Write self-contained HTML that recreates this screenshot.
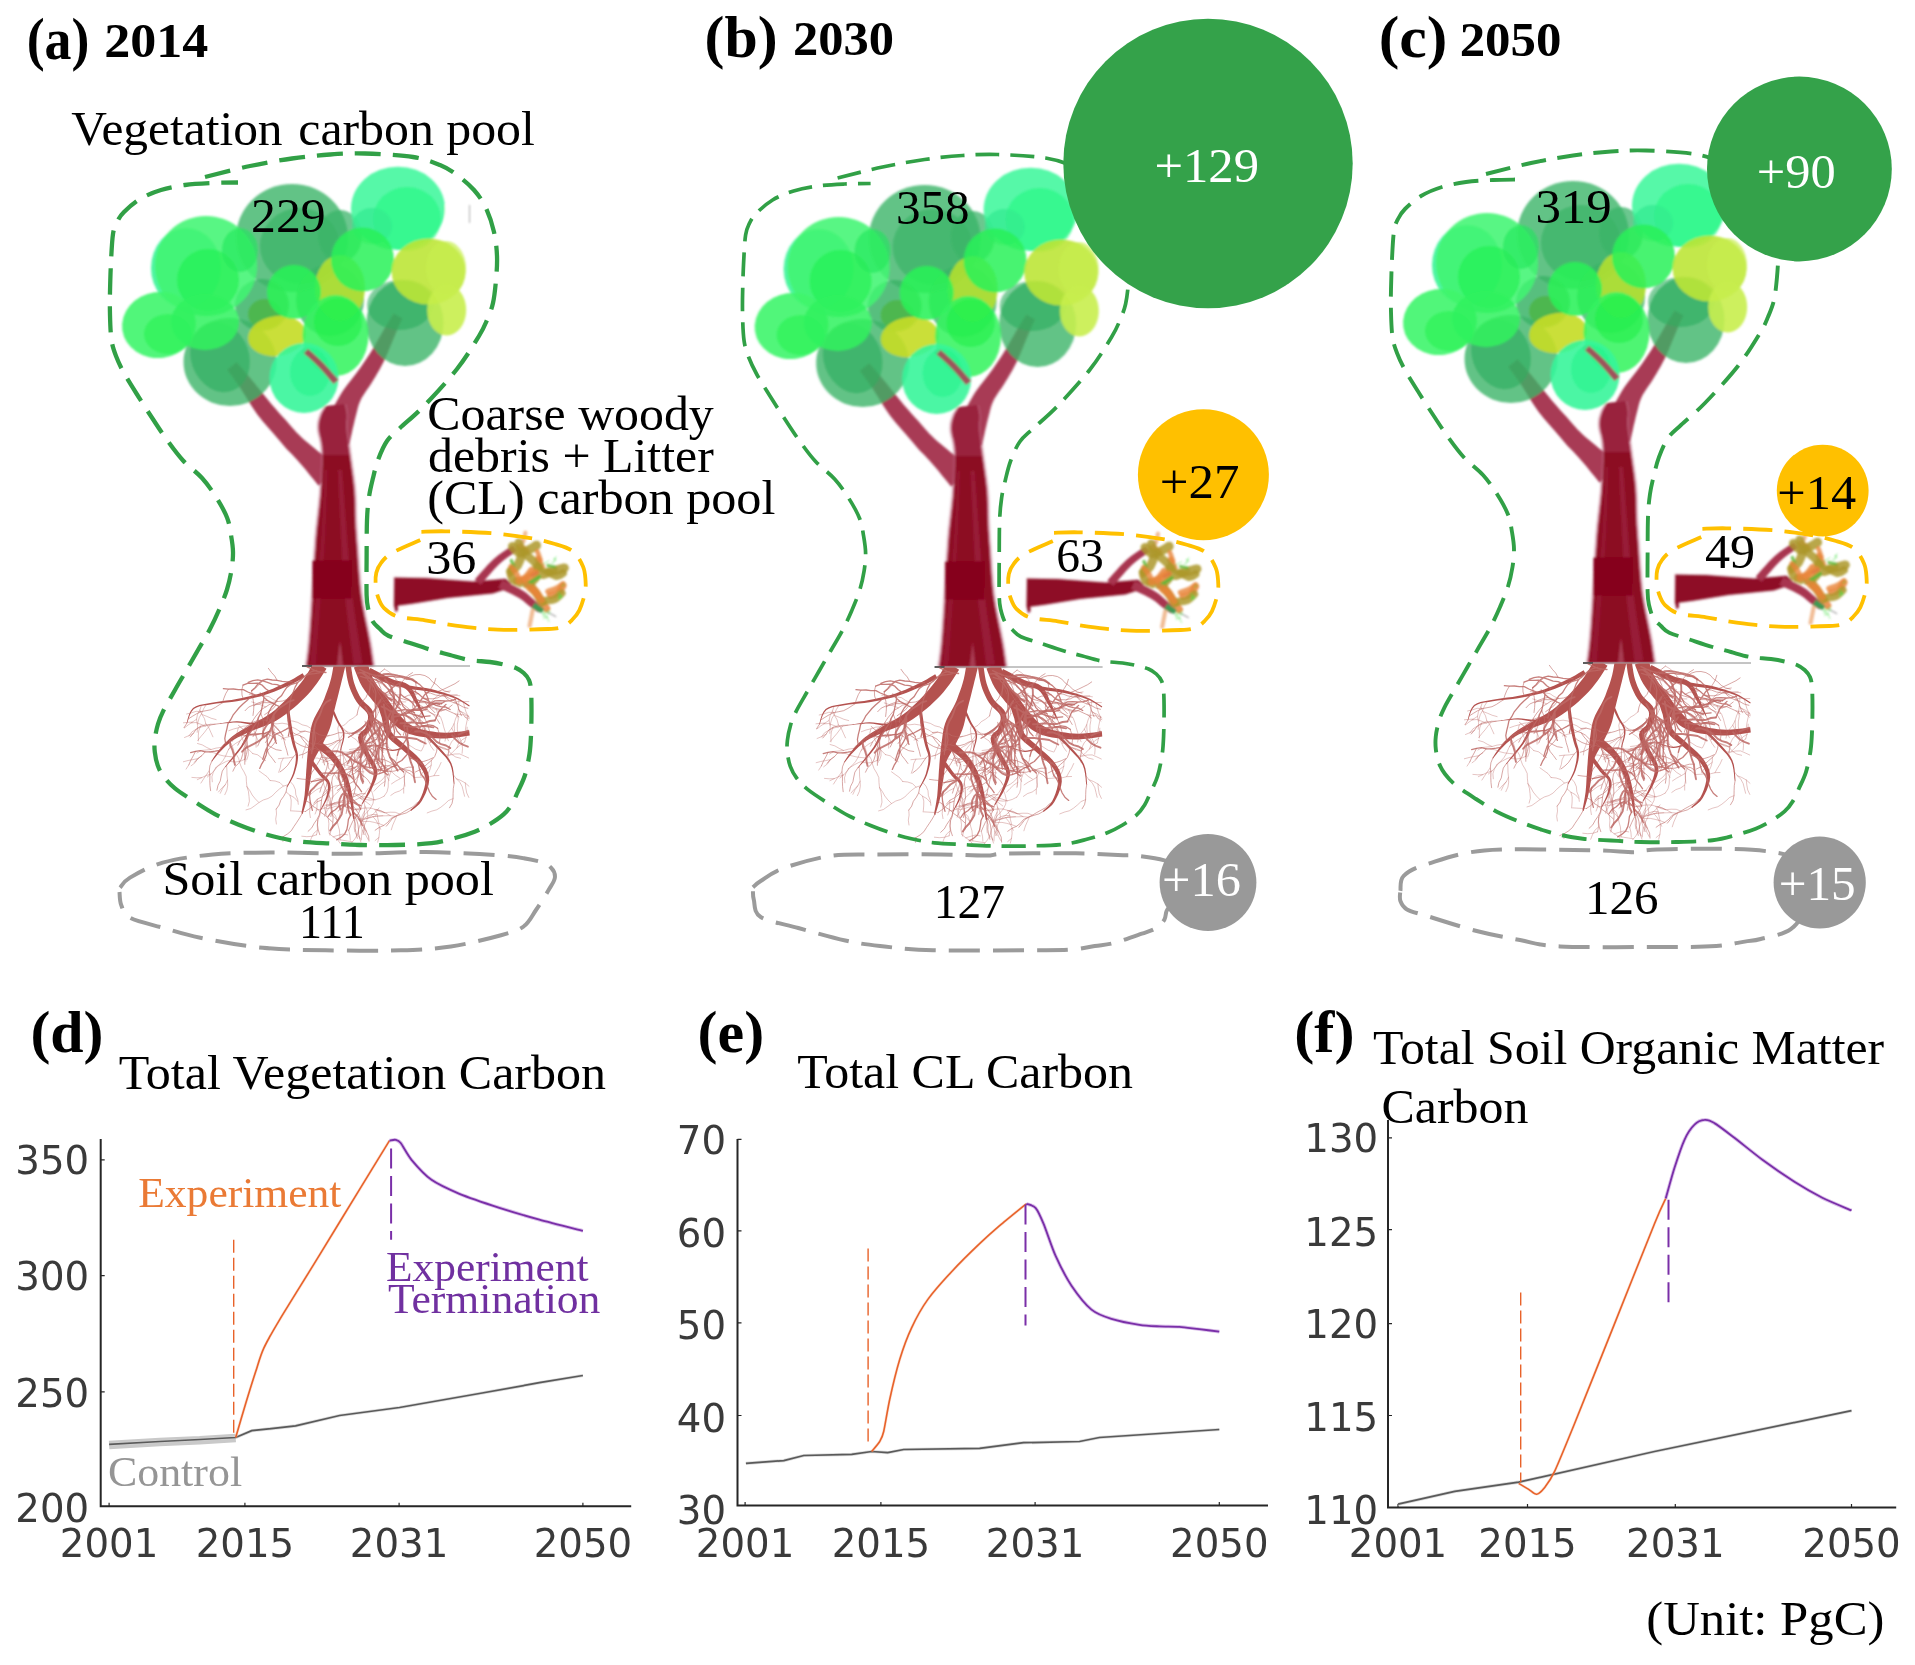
<!DOCTYPE html>
<html lang="en"><head><meta charset="utf-8"><title>Carbon pools</title>
<style>
html,body{margin:0;padding:0;background:#fff}
svg{display:block}
.s{font-family:"Liberation Serif","Times New Roman",serif}
.b{font-family:"Liberation Serif","Times New Roman",serif;font-weight:bold}
.t{font-family:"DejaVu Sans","Liberation Sans",sans-serif;fill:#3a3a3a}
</style></head><body>
<svg width="1915" height="1665" viewBox="0 0 1915 1665">
<rect width="1915" height="1665" fill="#fff"/>
<defs><clipPath id="tk"><rect x="290" y="455" width="100" height="215"/></clipPath><filter id="sf" x="-5%" y="-5%" width="110%" height="110%"><feGaussianBlur stdDeviation="0.8"/></filter><g id="tree" filter="url(#sf)"><path d="M337.4 466.3L334.8 464.3L331 461.3L326.5 457.8L321.8 454.2L317.4 450.7L313.6 447.6L310.5 445.1L307.8 442.8L305.3 440.7L303 438.7L300.9 436.7L298.7 434.6L296.5 432.4L294.4 430.1L292.3 427.8L290.2 425.3L288 422.7L285.7 420.1L283.3 417.4L281 414.9L278.7 412.4L276.4 409.8L274 407L271.3 403.9L268.3 400.3L264.8 396L261.2 391.5L257.5 386.9L254 382.6L250.8 378.7L247.9 375.2L245.1 371.9L242.4 368.8L240.1 366.2L238.1 363.9L236.7 362.3L227.3 369.7L228.6 371.5L230.3 373.9L232.4 376.8L234.7 380L237.1 383.5L239.6 387.1L242.2 391.1L245.2 395.8L248.3 400.7L251.4 405.7L254.6 410.4L257.5 414.7L260.3 418.3L262.9 421.5L265.3 424.3L267.7 426.9L269.9 429.4L272.1 431.9L274.3 434.5L276.4 437L278.6 439.6L280.7 442.1L283 444.7L285.3 447.4L287.6 449.9L289.9 452.3L292.2 454.6L294.4 456.9L296.8 459.5L299.4 462.4L302.5 466L306.1 470.3L309.8 474.9L313.4 479.3L316.4 483L318.6 485.7Z" fill="#a83a55"/><path d="M349.3 444.6L349.9 441.9L350.7 438L351.7 433.6L352.7 428.8L353.8 424.3L354.7 420.3L355.6 416.7L356.5 413.2L357.3 409.9L358.1 406.7L359.1 403.7L360.2 400.9L361.6 398.1L363.2 395.4L365.1 392.6L367.1 389.6L369.3 386.4L371.5 383L373.5 379.7L375.5 376.4L377.5 373L379.6 369.4L381.7 365.6L383.8 361.5L386 356.8L388.2 351.7L390.3 346.5L392.4 341.4L394.3 336.7L396 332.7L397.4 329.4L398.7 326.4L399.9 323.8L400.9 321.6L401.8 319.8L402.4 318.4L393.6 313.6L392.8 315L391.7 316.6L390.4 318.7L388.9 321.2L387.2 324.1L385.2 327.3L383 331.1L380.5 335.6L377.7 340.3L375 345.1L372.3 349.7L369.8 353.7L367.5 357.3L365.3 360.6L363.1 363.8L360.9 366.9L358.7 369.9L356.5 373L354.4 375.8L352.2 378.6L349.9 381.4L347.5 384.5L345.1 387.7L342.8 391.1L340.6 394.6L338.6 398L336.6 401.4L334.8 404.8L333 408.2L331.3 411.7L329.3 415.8L327.3 420.3L325.2 424.9L323.4 429.2L321.8 432.8L320.7 435.4Z" fill="#a83a55"/><path d="M337.6 377.6L335.9 375.9L333.7 373.5L331 370.7L328.1 367.6L325.1 364.5L322.3 361.7L319.3 358.9L315.9 356L312.6 353.1L309.5 350.5L306.9 348.3L305 346.7L301 351.3L302.9 352.9L305.5 355.2L308.5 357.9L311.8 360.7L314.9 363.6L317.7 366.3L320.4 369.1L323.3 372.1L326.1 375.2L328.7 378.1L330.8 380.6L332.4 382.4Z" fill="#b23852"/><path d="M304.9 666L305.3 662.8L305.9 658.4L306.6 653L307.3 646.8L307.9 640L308.5 632.4L309.1 623.9L309.7 614.8L310.3 605.1L310.9 595L311.6 584.1L312.2 572.2L312.9 560L313.7 548.4L314.4 538L315.2 529.1L316.1 521L316.9 513.7L317.7 506.8L318.4 500L319 493.4L319.4 487.1L319.8 481.1L320.2 475.4L320.4 470L320.6 464.9L320.7 460.1L320.7 455.6L320.7 451.2L320.4 447L319.8 442.8L319 438.8L318 435L317.3 431.4L316.9 428L317 425L317.3 422.2L317.9 419.6L318.6 417.2L319.4 415L320.3 412.8L321.5 410.7L322.6 408.8L323.7 407.2L324.4 406L346.6 404L346.9 405.5L347.4 407.5L347.9 409.9L348.3 412.5L348.6 415L348.6 417.2L348.4 419.4L348.1 421.7L348 424.5L348.1 428L348.5 432.4L349.2 437.4L349.9 443L350.8 448.9L351.6 455L352.5 461.6L353.5 468.7L354.5 476L355.4 483.2L356.1 490L356.5 496.4L356.7 502.6L356.8 508.6L356.9 514.4L357.1 520L357.3 524.9L357.5 529.2L357.8 533.4L358.1 538.5L358.6 545L359.2 553.5L359.8 563.4L360.6 574.2L361.5 584.9L362.6 595L364.1 604.6L365.9 614.3L367.8 623.6L369.6 632.3L371.1 640L372.3 646.8L373.2 653L374 658.4L374.6 662.8L375.1 666Z" fill="#b9607a" opacity=".55"/><path d="M307 666L307.4 662.8L308 658.4L308.7 653L309.4 646.8L310 640L310.6 632.4L311.2 623.9L311.8 614.8L312.4 605.1L313 595L313.7 584.1L314.3 572.2L315 560L315.8 548.4L316.5 538L317.3 529.1L318.2 521L319 513.7L319.8 506.8L320.5 500L321.1 493.4L321.5 487.1L321.9 481.1L322.3 475.4L322.5 470L322.7 464.9L322.8 460.1L322.8 455.6L322.8 451.2L322.5 447L321.9 442.8L321.1 438.8L320.1 435L319.4 431.4L319 428L319.1 425L319.4 422.2L320 419.6L320.7 417.2L321.5 415L322.4 412.8L323.6 410.7L324.7 408.8L325.8 407.2L326.5 406L344.5 404L344.8 405.5L345.3 407.5L345.8 409.9L346.2 412.5L346.5 415L346.5 417.2L346.3 419.4L346 421.7L345.9 424.5L346 428L346.4 432.4L347.1 437.4L347.8 443L348.7 448.9L349.5 455L350.4 461.6L351.4 468.7L352.4 476L353.3 483.2L354 490L354.4 496.4L354.6 502.6L354.7 508.6L354.8 514.4L355 520L355.2 524.9L355.4 529.2L355.7 533.4L356 538.5L356.5 545L357.1 553.5L357.7 563.4L358.5 574.2L359.4 584.9L360.5 595L362 604.6L363.8 614.3L365.7 623.6L367.5 632.3L369 640L370.2 646.8L371.1 653L371.9 658.4L372.5 662.8L373 666Z" fill="#99203c"/><path d="M307.3 666L307.7 662.8L308.3 658.4L309 653L309.7 646.8L310.3 640L310.9 632.4L311.5 623.9L312.1 614.8L312.7 605.1L313.3 595L314 584.1L314.6 572.2L315.3 560L316.1 548.4L316.8 538L317.6 529.1L318.5 521L319.3 513.7L320.1 506.8L320.8 500L321.4 493.4L321.8 487.1L322.2 481.1L322.6 475.4L322.8 470L323 464.9L323.1 460.1L323.1 455.6L323.1 451.2L322.8 447L322.2 442.8L321.4 438.8L320.4 435L319.7 431.4L319.3 428L319.4 425L319.7 422.2L320.3 419.6L321 417.2L321.8 415L322.7 412.8L323.9 410.7L325 408.8L326.1 407.2L326.8 406L344.2 404L344.5 405.5L345 407.5L345.5 409.9L345.9 412.5L346.2 415L346.2 417.2L346 419.4L345.7 421.7L345.6 424.5L345.7 428L346.1 432.4L346.8 437.4L347.5 443L348.4 448.9L349.2 455L350.1 461.6L351.1 468.7L352.1 476L353 483.2L353.7 490L354.1 496.4L354.3 502.6L354.4 508.6L354.5 514.4L354.7 520L354.9 524.9L355.1 529.2L355.4 533.4L355.7 538.5L356.2 545L356.8 553.5L357.4 563.4L358.2 574.2L359.1 584.9L360.2 595L361.7 604.6L363.5 614.3L365.4 623.6L367.2 632.3L368.7 640L369.9 646.8L370.8 653L371.6 658.4L372.2 662.8L372.7 666Z" fill="#8c0822" clip-path="url(#tk)"/><path d="M338 470.1L338.2 475.3L338.4 482.4L338.8 490.8L339.2 500.2L339.7 510.1L340.2 520.2L340.7 530.6L341.2 541.9L341.8 553.7L342.5 565.9L343.3 578.2L344.4 590.4L345.7 603.4L347.4 617.6L349.3 631.9L351 645.3L352.5 656.5L353.5 664.6L362.5 663.4L361.2 655.3L359.4 644.1L357.4 630.8L355.2 616.6L353.3 602.5L351.6 589.6L350.4 577.6L349.3 565.4L348.3 553.3L347.4 541.5L346.6 530.3L345.8 519.8L345 509.8L344.3 499.8L343.6 490.5L343 482.1L342.4 475.1L342 469.9Z" fill="#a3304c" opacity=".5"/><path d="M324.5 469.9L324.1 477.7L323.6 488.5L323.1 501.2L322.4 514.7L321.7 528L321 539.9L320.2 550.4L319.3 560.4L318.4 570.2L317.4 579.9L316.4 589.7L315.5 599.8L314.5 611L313.5 623.2L312.4 635.5L311.5 647L310.6 656.8L310 663.8L316 664.2L316.5 657.2L317.1 647.5L317.9 636L318.8 623.6L319.7 611.4L320.5 600.2L321.3 590.1L322.1 580.3L322.9 570.6L323.6 560.8L324.4 550.7L325 540.1L325.6 528.2L326.1 514.9L326.6 501.3L327 488.6L327.3 477.8L327.5 470.1Z" fill="#a3304c" opacity=".35"/><rect x="312.5" y="560.5" width="39" height="38" fill="#86001b"/><path d="M337 665L340 640L343 665Z" fill="#b55268" opacity=".7"/><ellipse cx="292" cy="238" rx="56" ry="54" fill="#3bb468" opacity="0.8"/><ellipse cx="300" cy="246" rx="40" ry="38" fill="#2fae5e" opacity="0.55"/><ellipse cx="340" cy="236" rx="22" ry="26" fill="#3bb468" opacity="0.75"/><ellipse cx="230" cy="362" rx="46.5" ry="44" fill="#3bb468" opacity="0.8"/><ellipse cx="220" cy="357" rx="29" ry="36" fill="#2fae5e" opacity="0.6" transform="rotate(-20 220 357)"/><ellipse cx="405" cy="323" rx="38.5" ry="43" fill="#3bb468" opacity="0.8"/><ellipse cx="400" cy="305" rx="33" ry="25" fill="#2fae5e" opacity="0.6"/><ellipse cx="262" cy="305" rx="27" ry="26" fill="#3bb468" opacity="0.85"/><ellipse cx="330" cy="300" rx="34" ry="36" fill="#3bb468" opacity="0.8"/><ellipse cx="398" cy="208.4" rx="47" ry="41.7" fill="#3df79c" opacity="0.88"/><ellipse cx="407" cy="219" rx="34" ry="32" fill="#1ff87c" opacity="0.55"/><ellipse cx="372" cy="226" rx="20" ry="18" fill="#2fe88c" opacity="0.6"/><ellipse cx="186" cy="268" rx="35" ry="40" fill="#2ff391" opacity="0.85"/><ellipse cx="206" cy="266" rx="51" ry="50" fill="#42f572" opacity="0.88"/><ellipse cx="208" cy="280" rx="31" ry="31" fill="#1ef04c" opacity="0.6"/><ellipse cx="240" cy="250" rx="18" ry="22" fill="#22e85a" opacity="0.6"/><ellipse cx="159" cy="325" rx="37" ry="33" fill="#3ff56c" opacity="0.9" transform="rotate(-8 159 325)"/><ellipse cx="168" cy="334" rx="24" ry="20" fill="#22f050" opacity="0.55"/><ellipse cx="205" cy="322" rx="34" ry="28" fill="#30f25e" opacity="0.85"/><ellipse cx="265" cy="314" rx="17" ry="15" fill="#4cb648" opacity="0.85"/><ellipse cx="277" cy="336" rx="29" ry="20" fill="#c6dc28" opacity="0.92" transform="rotate(-8 277 336)"/><ellipse cx="340" cy="288" rx="25" ry="33" fill="#b4e030" opacity="0.9"/><ellipse cx="294" cy="292" rx="27" ry="27" fill="#2bf158" opacity="0.88"/><ellipse cx="362.5" cy="259.5" rx="31.5" ry="32" fill="#2bf158" opacity="0.86"/><ellipse cx="428.6" cy="271.5" rx="37" ry="33" fill="#bde636" opacity="0.9"/><ellipse cx="446.7" cy="310" rx="19.5" ry="25.5" fill="#c8ee4e" opacity="0.9"/><ellipse cx="446" cy="268" rx="20" ry="27" fill="#c8ee4e" opacity="0.7"/><ellipse cx="335.5" cy="335.6" rx="33" ry="40.5" fill="#34f460" opacity="0.88"/><ellipse cx="338" cy="322" rx="24" ry="24" fill="#1eef44" opacity="0.55"/><ellipse cx="304" cy="378" rx="34.5" ry="35" fill="#36f59a" opacity="0.9"/><ellipse cx="310" cy="372" rx="20" ry="24" fill="#22f388" opacity="0.5"/><path d="M338.5 379.9L337 378.2L334.9 375.7L332.4 372.9L329.7 369.8L326.9 366.7L324.2 363.8L321.4 361L318.3 358.1L315.2 355.2L312.3 352.6L309.8 350.4L308 348.8L304 353.2L305.7 354.9L308.2 357.1L311.1 359.8L314.1 362.6L317.1 365.5L319.8 368.2L322.3 370.9L325 373.9L327.6 377L330 379.9L332 382.3L333.5 384.1Z" fill="#b23852" opacity=".85"/><rect x="445.2" y="205" width="25" height="34" fill="#fff"/><path d="M469.5 205V223" stroke="#555" stroke-width=".6"/></g><clipPath id="rc"><rect x="183" y="666.5" width="287" height="180"/></clipPath><g id="roots"><path d="M302 666H470" stroke="#8a8a8a" stroke-width="1" fill="none"/><path d="M302 666H312" stroke="#444" stroke-width="1.6" fill="none"/><g clip-path="url(#rc)" fill="#b4524f"><path d="M314.3 661.3L312.8 663.9L310.8 667.6L308.4 671.7L305.9 675.8L303.5 679.5L301 682.8L298.4 686.1L295.7 689.3L292.8 692.6L289.6 695.9L286.2 699.4L282.6 703L278.8 706.5L275 709.9L271.1 713L267 715.8L262.5 718.5L257.8 721.1L253.2 723.6L248.9 726L245.2 728.2L241.8 730.1L238.6 732L235.5 734L232.4 736.2L229.5 738.8L226.7 741.5L224 744.3L221.6 747L219.4 749.6L217.3 752.2L215.5 754.8L213.8 757.3L212.4 759.4L211.4 760.9L212.1 761.4L213.2 760L214.8 758L216.6 755.7L218.7 753.3L220.9 750.9L223.3 748.6L225.9 746.1L228.7 743.7L231.6 741.3L234.6 739.2L237.6 737.4L240.7 735.9L244 734.4L247.6 732.8L251.5 731.1L255.9 729.3L260.7 727.5L265.9 725.5L271.1 723.3L276.1 720.7L280.8 717.7L285.4 714.5L289.7 711.1L293.9 707.7L297.7 704.4L301.3 701.1L304.7 697.7L307.9 694.4L311 690.9L313.9 687.3L317 683.3L319.9 678.9L322.6 674.7L324.9 671.2L326.5 668.7Z"/><path d="M302.6 673.2L300.5 674.5L297.5 676.3L294 678.4L290.1 680.6L286.2 682.6L282.1 684.6L277.6 686.6L272.9 688.7L268 690.6L263.1 692.4L258 693.9L252.7 695.4L247.3 696.7L241.9 697.9L236.6 699L231.5 699.9L226.3 700.6L221.1 701.2L216.2 701.9L211.6 702.7L207.4 703.4L203.2 704.2L199.4 705L196 706.2L193 708L190.8 710.8L189.1 714.3L187.9 718L187.1 721.2L186.4 723.4L187 723.6L187.8 721.4L188.7 718.2L190 714.7L191.7 711.4L193.8 708.9L196.5 707.4L199.8 706.3L203.5 705.6L207.6 705L211.9 704.3L216.5 703.6L221.4 703.1L226.5 702.6L231.8 702.1L237 701.3L242.4 700.3L247.9 699.2L253.4 698L258.8 696.7L264 695.2L269.1 693.6L274.1 691.7L278.9 689.8L283.5 687.8L287.8 685.9L291.9 683.9L295.9 681.9L299.6 679.9L302.6 678.2L304.8 677Z"/><path d="M333.9 663.8L333.4 666.3L332.8 669.7L332.1 673.7L331.2 677.9L330.1 682L328.9 686L327.4 690.3L325.8 694.6L324.2 698.9L322.4 703L320.5 706.8L318.4 710.6L316.3 714.3L314.2 718.2L312.6 722.2L311.4 726.2L310.6 730.2L310 734.1L309.5 737.9L309 741.6L308.5 745.2L308.1 748.8L307.8 752.4L307.4 756L307.1 759.6L306.8 763.2L306.6 766.6L306.3 769.9L306.1 773.3L305.9 776.7L305.6 780.3L305.4 784L305.2 787.7L304.9 791.4L304.6 795.1L304 799.1L303.3 803.3L302.5 807.5L301.8 811.1L301.4 813.6L302.7 813.9L303.4 811.5L304.5 808L305.7 803.9L306.9 799.7L307.8 795.7L308.6 791.9L309.2 788.2L309.8 784.5L310.3 780.8L310.9 777.3L311.4 773.8L311.7 770.5L312.2 767.2L312.8 764.1L313.6 761L314.9 758L316.5 755L318.2 752L320 748.9L321.8 745.6L323.5 742.2L325.2 738.8L326.9 735.4L328.5 731.8L329.9 728.2L331.1 724.5L332.1 720.4L333 716.2L334 711.8L335.1 707.3L336.2 702.8L337.4 698.2L338.6 693.6L339.7 689.1L340.8 684.8L341.8 680.5L342.9 676.2L343.9 672.1L344.7 668.7L345.3 666.3Z"/><path d="M314.5 746.9L316.5 748.3L319.2 750.1L322.4 752.3L325.4 754.6L328.1 756.8L330.3 759L332.4 761.4L334.4 763.9L336.2 766.5L338 769.2L339.6 772L341.1 775L342.4 778.1L343.7 781.2L344.9 784.4L346.1 787.6L347.1 790.7L348.1 794L349 797.3L349.8 800.7L350.7 804.5L351.4 808.7L352.1 812.8L352.7 816.4L353.2 818.9L354.5 818.7L354.3 816.2L354 812.6L353.7 808.4L353.3 804.1L352.8 800.1L352.3 796.6L351.7 793.1L351 789.7L350.3 786.3L349.4 783L348.3 779.6L347.2 776.2L345.9 772.9L344.5 769.6L342.9 766.4L341.2 763.4L339.3 760.4L337.3 757.6L335.1 754.8L332.8 752.1L330.1 749.3L327 746.5L324 743.9L321.4 741.8L319.6 740.3Z"/><path d="M345.2 665.5L345.6 668L346.1 671.6L346.7 675.8L347.6 680.2L348.6 684.2L349.8 687.9L351.2 691.5L352.8 695L354.5 698.4L356.5 701.8L359 704.9L361.9 707.8L364.6 710.3L366.6 712.5L367.7 714.5L368.1 716.6L367.9 719.3L367.4 722.1L366.5 725L365.7 727.3L364.7 728.9L363.1 730.3L361 731.9L359 734.3L358 737.6L358.5 741.2L359.8 744.8L361.5 748.5L363.4 752L365.1 755.5L367 758.9L369.2 762.2L371.3 765.4L372.9 768.4L373.7 771.4L373.8 774.4L373.1 777.8L372.1 781.3L370.8 784.8L369.5 788.2L368 791.6L366.3 795.2L364.5 798.6L362.9 801.4L361.7 803.5L362.6 804L363.9 802L365.7 799.3L367.8 796.1L369.9 792.6L371.6 789.2L373.2 785.8L374.8 782.3L376.2 778.7L377.2 774.9L377.4 771L376.5 767.1L374.9 763.4L372.9 759.9L370.9 756.6L369.3 753.4L367.7 749.9L365.9 746.3L364.3 742.9L363.3 740L363 737.9L363.4 736.8L364.5 735.7L366.3 734.3L368.6 732.4L370.4 729.8L371.7 726.8L372.8 723.6L373.7 720.1L374 716.4L373.4 712.5L371.5 709L368.8 706.1L365.9 703.5L363.3 701.1L361.2 698.5L359.5 695.7L357.9 692.6L356.4 689.3L355.2 686L354 682.6L353.1 678.9L352.3 674.8L351.7 670.7L351.2 667.2L350.8 664.6Z"/><path d="M353.9 667.5L354.8 670L356.2 673.6L357.9 677.8L359.9 682.4L362.2 686.7L364.7 690.6L367.4 694.2L370.2 697.6L372.9 700.9L375.6 704L378.2 707.3L381 710.8L383.9 714.2L386.9 717.6L389.9 720.6L392.8 723.3L395.6 725.8L398.6 728.2L401.7 730.3L405.1 732.1L408.6 733.7L412.2 734.8L415.8 735.7L419.5 736.4L423.4 737L427.5 737.6L431.9 738L436.4 738.3L441.1 738.4L445.8 738.4L450.9 738L456.5 737.4L461.9 736.7L466.5 736L469.8 735.5L469.2 730.6L465.9 730.9L461.3 731.5L455.9 732.1L450.5 732.6L445.7 732.7L441.3 732.6L436.9 732.2L432.6 731.6L428.5 730.9L424.7 730.1L421.1 729.2L417.8 728.2L414.8 727.1L412.1 725.8L409.5 724.3L407.1 722.5L404.8 720.5L402.6 718.3L400.3 715.8L398 713.1L395.6 710.1L393.1 706.9L390.7 703.4L388.1 699.8L385.6 696.2L382.9 692.8L380.3 689.5L377.9 686.3L375.7 683.2L373.9 680.1L372.2 676.7L370.7 672.8L369.3 668.7L368.1 665.2L367.2 662.6Z"/><path d="M375.7 699.5L376.6 702L377.8 705.6L379.1 709.7L380.5 713.9L381.7 717.6L382.4 720.9L382.9 724.2L383.5 727.8L384.6 731.5L386.4 735.1L389 738.5L392.1 741.5L395.5 744.2L398.9 746.9L402.2 749.8L405.6 752.8L409.3 755.9L412.9 759L416.2 762L418.8 765L421 768.1L422.8 771.1L424.2 774.1L425.1 777.1L425.5 780.3L425.2 784L424.3 788.1L422.9 792.4L421.3 796.4L419.7 799.8L417.9 802.6L415.8 805L413.6 807L411.6 808.7L410.3 810L411 810.9L412.5 809.7L414.6 808.2L417 806.3L419.5 803.9L421.7 801L423.6 797.5L425.6 793.5L427.3 789.1L428.6 784.6L429.2 780.4L429 776.4L428.1 772.7L426.6 769.1L424.8 765.7L422.5 762.2L419.7 758.7L416.3 755.3L412.7 752L409.1 748.9L405.7 745.8L402.4 742.8L399.1 739.9L396 737.2L393.4 734.6L391.5 732L390.3 729.3L389.6 726.5L389.1 723.3L388.6 719.8L387.8 716L386.7 712L385.3 707.7L384 703.6L382.9 700L382.1 697.4Z"/><path d="M367.3 673.9L370.4 675.4L374.7 677.6L379.8 680.1L384.9 682.5L389.5 684.5L393.6 685.8L397.4 686.5L400.7 687.1L403.4 687.8L405.7 689.1L407.9 691.1L410.1 694L412.1 697.4L414.1 700.9L416 704.2L418 707.4L419.9 710.8L421.8 714L423.3 716.8L424.4 718.7L425.3 718.3L424.4 716.2L423.2 713.3L421.8 709.8L420.3 706.2L418.7 702.8L417.1 699.3L415.5 695.6L413.8 691.8L411.6 688.2L408.9 685.1L405.5 683L402 681.8L398.5 681L395.1 680.2L391.7 679L387.5 677L382.6 674.5L377.7 671.8L373.4 669.5L370.4 667.9Z"/><path d="M407.1 688.9L410.3 689.3L414.8 689.7L420 690.3L425.4 690.9L430.4 691.8L435.2 692.7L440.1 693.9L445 695.1L449.6 696.5L453.8 697.9L457.6 699.6L461.2 701.5L464.5 703.5L467.2 705.2L469.2 706.4L469.7 705.6L467.8 704.3L465.1 702.5L461.9 700.4L458.3 698.2L454.4 696.4L450.2 694.7L445.6 693.2L440.7 691.7L435.8 690.3L431 689.1L425.9 688.1L420.4 687.2L415.2 686.4L410.7 685.7L407.5 685.3Z"/><path d="M285.3 705.4L285.8 708.4L286.5 712.8L287.3 717.7L288.1 722.7L288.8 727.1L289.5 730.9L290.2 734.4L290.9 737.7L291.6 740.8L292.4 743.9L293.2 746.8L294.1 749.4L295 751.8L295.6 754.3L295.9 757L295.8 760L295.4 763.4L294.7 766.9L293.9 770.3L293 773.4L291.8 776.5L290.4 779.6L288.9 782.6L287.5 785L286.6 786.8L287.3 787.2L288.3 785.5L289.8 783.1L291.4 780.2L293.1 777L294.4 773.9L295.4 770.7L296.4 767.3L297.3 763.7L297.8 760.2L298.1 756.9L297.9 753.9L297.3 751.2L296.5 748.6L295.7 746L295 743.3L294.3 740.2L293.7 737.1L293.1 733.8L292.4 730.3L291.8 726.6L291.1 722.3L290.4 717.3L289.7 712.3L289.1 707.9L288.6 704.9Z"/><path d="M308.8 761.5L310.2 763.3L312.2 766L314.6 769L317 772L319.1 774.7L321.2 776.9L323.3 778.9L325.1 780.6L326.6 782.3L327.5 784.1L327.9 786.2L327.9 788.7L327.6 791.3L327 794.1L326.3 796.8L325.3 799.6L323.9 802.8L322.4 805.8L321 808.4L320 810.2L320.8 810.6L321.8 808.8L323.3 806.3L325 803.3L326.6 800.2L327.9 797.3L328.8 794.6L329.6 791.8L330.2 788.9L330.4 786.1L330 783.3L329 780.8L327.3 778.6L325.4 776.6L323.5 774.7L321.7 772.6L319.7 769.9L317.5 766.8L315.3 763.7L313.3 761L312 759.1Z"/><path d="M403.7 747L402.2 747.4L400 748.1L397.5 748.9L394.8 749.5L392.3 749.7L389.6 749.4L386.5 748.7L383.5 747.9L380.8 747.1L379 746.6L378.8 747.2L380.6 747.8L383.2 748.7L386.3 749.6L389.4 750.4L392.2 750.9L395 750.7L397.8 750.2L400.4 749.6L402.6 749L404.2 748.6Z"/><path d="M273 715.6L270.8 716.7L267.8 718.3L264.2 720.1L260.4 721.6L256.8 722.5L253.1 722.7L249.1 722.4L244.9 721.9L240.8 721.4L236.9 721.2L233 721.4L229.1 721.9L225.4 722.4L222.3 722.9L220.1 723.2L220.2 723.9L222.4 723.6L225.5 723.3L229.2 722.9L233.1 722.6L236.8 722.5L240.6 722.8L244.7 723.5L248.9 724.2L253 724.6L257 724.5L261 723.6L265.1 722.2L268.8 720.5L272 719L274.2 718.1Z"/><path d="M329.4 705.6L330.3 707.7L331.6 710.6L333.1 714L334.7 717.5L336.2 720.6L337.8 723.4L339.5 726L341.1 728.5L342.3 731L343 733.6L343 736.9L342.4 740.7L341.5 744.5L340.6 747.8L340.1 750.2L340.9 750.4L341.5 748.1L342.5 744.8L343.6 740.9L344.4 737L344.5 733.5L343.9 730.4L342.6 727.6L341 725L339.4 722.4L338 719.7L336.6 716.6L335.1 713.1L333.6 709.7L332.4 706.8L331.5 704.7Z"/><path d="M423.1 734.5L424.9 736.3L427.5 738.7L430.5 741.6L433.7 744.6L436.6 747.7L439.5 750.7L442.5 753.9L445.4 757.1L448 760.5L450.1 763.9L451.5 767.9L452.4 772.5L453 777L453.3 781L453.7 783.7L454.5 783.6L454.3 780.9L454 776.9L453.6 772.3L452.8 767.6L451.4 763.3L449.4 759.6L446.8 756L443.9 752.6L441 749.3L438.2 746.2L435.3 743L432.2 739.8L429.3 736.9L426.7 734.4L424.9 732.6Z"/><path d="M249.1 728.1L248.3 730.2L247.2 733.1L245.8 736.6L244.3 740L242.7 743.1L241 745.9L239 748.7L236.9 751.4L234.9 754.1L233 756.5L231.1 759L229.2 761.3L227.5 763.6L226 765.4L224.9 766.8L225.4 767.2L226.5 765.9L228.1 764.1L230 762L232.1 759.7L234 757.4L236 755L238.2 752.4L240.3 749.7L242.4 746.9L244.3 744L246.1 740.9L247.7 737.4L249.2 734L250.4 731L251.3 729Z"/><path d="M201.9 755.6L197.8 758.5L195.1 762.7L191.1 765.8M197.9 758.6L193 759.6L188.1 760.5L183.2 761.8M188.8 764.9L186.1 769.1M209.3 770.7L206.4 774.8L203.6 778.9L200.9 783.1M255.5 732.3L256.3 737.2L256 742.2L256.1 747.2M240.1 740.8L235.8 743.3L231.8 746.3L228.3 749.8M247 745L248.4 749.8L248.4 754.8L246.9 759.5M244.8 759.3L240.2 761.3L235.3 762L230.3 761.5M201.2 711.6L196.2 711.3L191.4 712.8L186.6 714M206.4 704.4L203.7 708.6L201.8 713.2L199.3 717.5L197.9 722.3L197.5 727.3L197.2 732.3M202 714.5L206.7 716.3L211.3 718.3L216.1 719.6M205.8 723.7L208.8 727.7L210.8 732.2L212.9 736.8M199.9 710L202 714.5L204.5 718.8L205.8 723.7M192.4 722.1L187.4 722.4L182.4 722.9M196.5 719.3L192.4 722.1L188.2 724.9L184.3 728M201.4 705.3L199.9 710L197.5 714.4L196.5 719.3L197.3 724.3M309.6 802.7L310 807.7L309.6 812.7L310.4 817.6M283.3 836.6L282.9 841.6M370.4 808L375.2 809.4L380.1 810.4L384.5 812.8M355.5 809L360.4 808.5L365.4 808L370.4 808M363.2 819.2L367.3 816.2L371.9 814.5L376.9 814.5M368.1 818L372.1 815L375.8 811.7L379.1 807.9M372.9 816.6L376.1 820.4L378.5 824.8L380.7 829.3M358.2 819L363.2 819.2L368.1 818L372.9 816.6L377.8 816.2L382.8 815.7M356.1 833.5L359.3 837.4L360.9 842.1M369 738.6L369.4 743.6L370.1 748.5L371.1 753.4M359.1 749.4L358.2 754.4L357.5 759.3L358.5 764.2M361.9 763.3L360.9 768.2L358.9 772.8L358.2 777.7M372.5 772.1L377.1 770.2L382 768.9L387 769.1M341.3 787.4L338.5 791.5L334.7 794.8L331.3 798.4M364.1 744.6L363.8 749.6L362.1 754.3L360.6 759.1M368.5 753.6L366.9 758.3L363.7 762.2L360.9 766.3M368.6 746.5L370.8 751L374.1 754.7L377.7 758.2M384.1 766.4L384.8 771.3L386.6 776L388.9 780.4M387.2 770.3L391.9 772L395.6 775.4L399.8 778.1M385.1 776.3L381.9 780.1L377.9 783.1L373.4 785.4M385.1 781.3L381 784.1L377.4 787.5L374 791.2M403.7 788.1L399.6 791L394.9 792.6L390.8 795.4M402.2 768.5L404 773.2L404.4 778.2L404.6 783.2L403.7 788.1L403.7 793.1M404.4 776.2L400.1 778.8L395.7 781.1L391.5 783.9M406.2 771.5L404.4 776.2L404.3 781.2L404.9 786.2M434 775.7L436.4 771.3L439 767.1L441.1 762.5M414.2 777.5L419.2 777.3L424.2 776.7L429.1 776.9L434 775.7L439 775.5M339.7 802.3L334.9 803.7L329.9 804.1L325 805.3M334.7 802.9L330.6 805.8L327.7 809.8L325.3 814.2M349.6 803.3L344.6 802.9L339.7 802.3L334.7 802.9L329.9 804.4M372.3 784.5L368.7 787.9L365.8 792L362.6 795.8L358.4 798.5L353.9 800.7L349.6 803.3L345.2 805.6L340.3 806.8M370.5 788.7L372.4 793.3L373.6 798.2L373.1 803.2L370.9 807.6L367.7 811.6L364.2 815.1L362.1 819.6M364.9 806L367.1 810.4L367.8 815.4L366.8 820.3L364.6 824.8L363.6 829.7L363.1 834.6M362.2 830.1L361.6 835L361.4 840M364.6 811L362.4 815.4L361 820.2L360.9 825.2L362.2 830.1L364.4 834.6M362.5 820.6L364.3 825.3L364.4 830.3L365.8 835.1L368.1 839.5M363.8 801.1L364.9 806L364.6 811L364.1 815.9L362.5 820.6L360.1 825L358.5 829.8L357.3 834.6L354.8 839L351.6 842.8M355.6 817L354.5 821.9L354.2 826.9L354.7 831.9M348.7 830.3L349.9 835.2L350.3 840.2M399.9 814.1L395.3 812.3L390.3 812.2L385.3 812.6L380.4 811.7L375.9 809.6M390.4 815.6L386 813.2L381.5 811.1L376.6 809.8M375.4 816L370.7 817.6L365.8 818.7L361.3 820.9M395.4 816.2L390.4 815.6L385.4 815.8L380.4 815.9L375.4 816M379.1 823.7L377.9 818.8L377.1 813.9L374.8 809.4M383.8 825.4L379.1 823.7L374.3 822.4L369.4 821.4L364.4 821.5L359.5 820.4M378.9 837.4L375.1 840.6M379.2 827.4L379.5 832.4L378.9 837.4L377.7 842.2M396.8 815.9L394.8 820.5L392.8 825L391.3 829.8M442.2 695.5L447.2 695.8L452.2 695.3L457.2 694.7M427.5 705.9L431.9 708.1L436.7 709.7L441.5 710.9M421.9 725.8L418.6 729.6L414.4 732.3L409.7 734M419 716.2L420.6 721L421.9 725.8L422.8 730.7M404.8 730.1L405.8 735L407.2 739.8L407.8 744.7M407.2 744L411.5 746.6L415.7 749.3L420.5 750.8M403.4 734.8L405.7 739.3L407.2 744L408.8 748.8M454 702.8L458.8 701.2L463.8 701.5L468.8 701.6M468.2 715.9L467 720.8L466 725.7L465.3 730.6M459.5 711.1L464.1 713L468.2 715.9M464.8 716.8L469.4 718.7M458.3 709.4L462.1 712.5L464.8 716.8L468.4 720.2M454.1 723.7L454.4 728.7L454.8 733.6L453.7 738.5M451.8 728.1L453.9 732.6L456.6 736.8L459.3 741M446 736.3L441.1 736.9L436.1 736.5L431.2 735.5M457.6 714.3L455.5 718.9L454.1 723.7L451.8 728.1L448.7 732L446 736.3L445 741.1M449.4 746.3L448.6 751.2L447.9 756.2L448.3 761.2M458 734.2L455 738.2L451.6 741.8L449.4 746.3L448.8 751.3L447.8 756.2M458.9 699.4L458.7 704.4L458.3 709.4L457.6 714.3L458.3 719.3L457.4 724.2L457.3 729.2L458 734.2L460 738.7L461.9 743.4L462.5 748.3L462.1 753.3M463.2 702L464.5 706.8L465.9 711.6L468 716.2M306.2 743.6L304.8 748.4L303 753.1L302.4 758M317.4 743.7L320.8 740.1L325.2 737.7L329.5 735.2M339.9 759.8L339.8 764.8L338.4 769.6L335.6 773.7M324 777.9L327 781.8L329.7 786.1L331 790.9M323.4 782.8L324.8 787.6L327.1 792.1L328.3 796.9M321.3 787.4L316.8 789.5L312.8 792.4L309 795.7M328.6 768.1L332 771.7L335.3 775.5L337.7 779.9M320.2 750.5L323 754.6L326.3 758.4L328.1 763.1L328.6 768.1M283.3 758.2L281.1 762.7L280.3 767.6L278.7 772.3M293.2 757.1L288.3 757.9L283.3 758.2L278.3 758.7M290.1 781.4L293.4 785.1L295.4 789.7L295.8 794.7L297.7 799.4L298.3 804.3M270.1 780.5L267 776.6L262.9 773.7L258.9 770.8M283.4 786.1L279.9 782.6L275.1 781L270.1 780.5M288.3 784.7L283.4 786.1L279.4 789L275.7 792.3L272.2 796L268 798.5L263.2 800L258.9 802.6L254.9 805.6L250.8 808.5L246 809.9M289.9 795.2L291.2 800L291.1 805L290.7 810M286.1 791.9L289.9 795.2L294.3 797.6L297.6 801.3M276.2 809.1L276.5 814.1L275.7 819.1L276.4 824M349.3 769.1L354 771L358.9 771.5L363.9 771.9M305.4 811.5L300.4 811.4L295.4 811.1L290.4 810.8M317.2 799.3L317.1 804.3L316.9 809.3L315.1 814M327.1 797.1L329.1 801.6L330.3 806.5L331.4 811.4L333.3 816L336.6 819.7M333.2 836.8L337.9 835.4L342.8 834L347.7 834.9M337.4 839.5L342.3 840.2L347.3 841L352.2 841.7M329.3 833.7L333.2 836.8L337.4 839.5L340.3 843.5M323.6 804.6L324.8 809.4L326.2 814.2L328.3 818.8L328.9 823.8L328.5 828.7L329.3 833.7M317.6 829.9L313.9 833.2L311.5 837.6L309.7 842.3M316.5 834.8L311.8 836.3L306.8 836.7L301.8 836.2M317.8 820L317.2 825L317.6 829.9L316.5 834.8M386 767.4L382 764.4L377.7 761.8L373 760.2M395.2 763.7L390.3 764.9L386 767.4L381.2 768.9L377.4 772.1L373.8 775.6M375 799.8L370.2 798.3L365.4 796.8L360.4 797M365 799.5L361.2 796.3L356.8 794L351.8 793.8M384.2 796.1L379.8 798.4L375 799.8L370 800.1L365 799.5L360.2 798.3M398.9 749.2L397.4 754L396.8 758.9L395.2 763.7L392.1 767.6L390.6 772.4L389 777.1L388.3 782.1L388.2 787.1L387 791.9L384.2 796.1M374.9 721.5L371.7 717.6L368.9 713.4L365.8 709.5M388.2 747.4L387.3 742.5L386 737.7L384.2 733L381.3 728.9L378.7 724.6L374.9 721.5M377.7 737.5L372.7 738L368.1 740L364.1 743M383.6 745.3L381.5 740.8L377.7 737.5L374.4 733.8L371 730.1M373.6 744.8L369.1 747L364.3 748L359.8 750.3M368.7 745.8L365.1 749.3L361.3 752.5L358.1 756.3L355.4 760.5M364.3 748.2L359.3 747.8L354.5 748.9L349.5 749.5M359.6 749.8L354.7 751L349.8 751.5L345.4 754M378.6 745.3L373.6 744.8L368.7 745.8L364.3 748.2L359.6 749.8L354.7 750.8L349.8 752M376.5 761.8L380.8 764.4L385.1 766.9L389.2 769.7M374 747.2L373.9 752.2L375.6 756.9L376.5 761.8L378.2 766.5L378.5 771.5M355.2 750.6L352.5 754.8L351.2 759.6L348.5 763.8M370 750.2L365 750.3L360.1 749.4L355.2 750.6L351.2 753.6M336.2 756.9L331.2 756.3L326.4 757.5L321.4 757.5M327.3 761.4L322.5 759.9L317.8 758.1L312.8 757.9M350.4 752.3L345.8 754.2L340.9 755.3L336.2 756.9L331.9 759.5L327.3 761.4L322.3 762.1M392.3 750.3L388.2 747.4L383.6 745.3L378.6 745.3L374 747.2L370 750.2L365.3 752.1L360.4 752.6L355.4 752.8L350.4 752.3L345.4 752.1L340.4 752M379.3 703L383.9 701.1L388.6 699.4L393.6 698.7M381.5 698.5L386.5 697.7L391.5 697.6L396 699.7M385.2 695.1L390.2 695.2L395.2 694.8L400.2 695M389.9 693.4L391.9 688.8L393.6 684.1L395.7 679.6M378.3 712.6L377.5 707.7L379.3 703L381.5 698.5L385.2 695.1L389.9 693.4M388.7 749.8L383.7 749.9L379.1 748L375 745.1L372 741.1L371 736.2L372.2 731.4L372.4 726.4L374.2 721.7L376.3 717.2L378.3 712.6M238.3 727.8L237.1 732.6L234.4 736.8L232.4 741.4M248 725.7L243.1 726.2L238.3 727.8L233.5 729L228.8 730.7M245.9 746.4L244.9 751.3L245.6 756.2L245.8 761.2M252.8 753.6L257.6 754.8L261.6 757.9L265.7 760.7M240.7 732.4L241.6 737.3L243.8 741.8L245.9 746.4L249.3 750.1L252.8 753.6M230.3 742.3L232.6 746.8L234 751.6L235.4 756.4M215.8 767.6L213.4 772L211.9 776.8L212.3 781.8M232.2 737.7L230.3 742.3L229.7 747.3L227.4 751.8L225.5 756.3L222.9 760.7L219.6 764.4L215.8 767.6M211.1 749.5L206.6 747.4L202.3 744.9L197.5 743.5M220.9 747.5L216 748.1L211.1 749.5L206.2 750L201.2 750.5L196.9 753M205.5 726L200.8 724.3L196.1 722.5L191.1 722.9M200.6 727.1L196.1 729.3L191.9 731.9L188.9 735.9M215.2 724.2L210.2 724.2L205.5 726L200.6 727.1M210.2 725L207.1 728.8L204.1 732.8L200.8 736.6L197.7 740.5M200.4 726.3L198.7 731L198.3 735.9L198.4 740.9M193.5 733.2L189.1 735.6L184.5 737.5M342.1 752.9L343.5 757.7L343.7 762.7L345 767.5M339 723.6L337.8 728.4L338.5 733.4L339.1 738.3L341 743L341.2 748L342.1 752.9L344.4 757.3L346.6 761.8M361.3 748.2L358.2 752.1L356.1 756.6L353.7 761M341.1 726.8L345.1 729.8L348.6 733.4L351.9 737L356.2 739.7L359.2 743.7L361.3 748.2L363.2 752.8L365 757.5L367.3 761.9L370.5 765.8M364.1 744.9L361.2 749L359.3 753.6L358.6 758.5M365 740L364.1 744.9L362.7 749.7L360.4 754.1M372.7 754.7L369.3 758.4L365 761L360.9 763.8M371 759.4L372.4 764.2L374.7 768.7L376.5 773.4M373.8 744.8L373.4 749.8L372.7 754.7L371 759.4L369.7 764.2M342.8 730L347.4 732L352.3 733L357.3 733.8L361.5 736.5L365 740L369.2 742.7L373.8 744.8M339.7 741.1L338.8 746L337.2 750.7L335.2 755.3M343.6 737.9L339.7 741.1L336.3 744.8L333.3 748.7L330.8 753.1L327.6 756.9L324.1 760.5M349.1 775.7L348.7 780.7L347.9 785.7L347.3 790.6M340.9 770.2L344.7 773.4L349.1 775.7L353.9 777.2M431.2 765.3L427.2 768.3L423.4 771.6L420.5 775.6M431.5 760.3L431.2 765.3L429.8 770.1L427.6 774.6L424.1 778.2M456.8 748.1L458.6 743.4L462.1 739.8L466.4 737.2M464.7 741.9L466 737.1L466.8 732.2L467.2 727.2M449.7 755.1L453.2 751.5L456.8 748.1L460.6 744.8L464.7 741.9M444.7 754.9L449.7 755.1L454.6 754L459.6 753.9L464.2 755.9L468.7 758M465.3 783L465.8 788L466.7 792.9L468.8 797.4M456.3 778.7L460.9 780.5L465.3 783L469 786.3M453.3 774.7L456.3 778.7L459.8 782.2L462.2 786.6L463.4 791.5L464.6 796.3M453 798.6L448.4 800.6L444.8 804L440.9 807.2L436.7 809.8L431.8 811.1L427.2 812.9M246.9 786.5L249.8 790.6L252.2 795L255.3 798.9L258.8 802.4M236 753.9L238.6 758.2L239.8 763L241.5 767.7L244.1 772L246.2 776.5L246.4 781.5L246.9 786.5L248.4 791.3L249 796.3L249.4 801.2L248.1 806.1M233.5 757L228.5 756.5L223.6 755.9L218.7 754.7L214.1 752.8L209.2 751.8M201.8 777.6L196.8 777.8L191.9 777.4M211.1 773.9L206.4 775.5L201.8 777.6L197.3 779.7M231.1 759.9L226.3 761.4L221.9 763.7L217.6 766.3L214.5 770.2L211.1 773.9L207.3 777.1M225.3 784.7L221.7 788.2L218.5 792M227.5 780.2L225.3 784.7L222.4 788.8L220.3 793.3M226.6 765.3L226.9 770.2L227 775.2L227.5 780.2L227.7 785.2L226.9 790.1L224.8 794.7M373.5 682.3L378.5 682.8L383.1 684.5L387 687.6L390.9 690.9L395.5 692.7M386 703.8L391 703.4L395.9 703.2L400.8 701.9L405.8 701.9M422 706.5L421.9 711.5L420.7 716.3L419 721L416.3 725.3L412.5 728.4L409.9 732.7M424.7 727.5L424.9 732.5L426.7 737.2L428.8 741.7L430.9 746.3L433.8 750.3M426.9 732L425.1 736.7L425 741.7L423.6 746.5L421.4 750.9M421.5 708.1L425.8 710.5L430.4 712.6L434.9 714.7L439.6 716.5M426.4 707L430 703.5L433.1 699.6L436.9 696.4L440.8 693.3L445.6 691.7L450.5 690.9M436 708.5L437.6 713.2L440.6 717.2L442.4 721.9L443.6 726.7L445.1 731.5L446.2 736.4L448.5 740.8M455 713.9L459.9 714.4L464.9 715L469.4 717.2M426 732.1L427.5 736.9L430.5 740.9L433.8 744.7L437.2 748.3M439.2 746.6L444.1 747.8L448.3 750.5L451.5 754.3L455.7 757L460.6 758.3M357 714.9L353.1 718.1L348.8 720.6L345.4 724.3L341.1 726.8M343.8 732.9L341.3 737.2L337.8 740.8L333.8 743.8L329.4 746.3L325.6 749.5M319.3 734.7L315.4 731.6L311.3 728.7L307.1 726L302.2 724.8L297.8 722.4L293 721.1L288 720.7M305 731.1L300.3 732.7L295.9 735.1L291 736.3L286.2 737.4L281.4 739M300 731.5L295.8 728.8L291.2 726.8L287.1 724L282.1 723.2L277.2 723.8L272.2 723.7M361.8 753.9L358.7 757.8L355.4 761.5L352.5 765.6L348.4 768.5M355.6 767.3L350.7 766.6L345.9 765L340.9 764.8L336 765.3L331 764.6M352.7 765.6L348.1 767.4L344.5 771L340.7 774.1L338.2 778.5M346.4 779.1L342.1 781.7L338.7 785.3L334.9 788.6M345.1 783.9L340.2 785.2L335.3 785.9L330.7 788L326.3 790.3L323.1 794.2M343.8 788.7L344.9 793.6L347.3 798L349.6 802.4M355.1 759L359.2 762L361.9 766.2L363 771.1L362.8 776.1L363.3 781.1M355.3 788L351.5 791.4L348 794.9L344.9 798.8L340.9 801.8L336.5 804.2L331.6 805.3L326.6 805.4M354.3 792.9L357.9 796.4L361.9 799.5L366.2 801.9L370.2 805M349.2 801.5L344.3 800.9L339.3 801L334.7 802.9L330.1 805L325.8 807.5L321.1 809.2L316.1 810M345.7 805L340.8 806L335.8 806.2L331.1 807.9L326.2 808.7M341.7 808L340.3 812.8L339.2 817.6L336.5 821.9L333.9 826.2L331 830.3L329.9 835.1M334.9 772.8L330.4 775L325.6 776.3L320.9 778L316 778.9L311.8 781.7L308.6 785.6M331.7 782.1L330.3 786.8L329.8 791.8L328.7 796.7L327.3 801.5L326.4 806.4L325.7 811.4L324.6 816.2M332 811.8L335.4 815.5L337.1 820.2L338 825.1L339.4 829.9L339.8 834.9L340.2 839.9M265.8 706.9L261.2 705L256.4 703.5L251.7 701.9M252.4 721.3L252.4 726.3L254.1 731L255.8 735.7L258 740.2M272.9 724.5L274.2 729.4L273.6 734.3L271.7 738.9M372.2 683.3L375.9 686.6L380.1 689.3L383.6 692.9M277.7 701.5L273.1 699.5L269 696.7L264 695.9L259 695.9L254 695.6L249.2 694.5M384.5 669.1L388.8 671.7L392.6 675L395.8 678.8L398.6 682.9M445.1 696.3L449.9 694.9L454.8 695.2L459.8 695.8" fill="none" stroke="#bd6865" stroke-width="0.6" stroke-linecap="round" stroke-linejoin="round" opacity="0.65"/><path d="M276 705L272.8 708.9L268.7 711.8L264.6 714.7M267.2 700.3L262.4 701.5L257.7 703.2L253.5 705.9M273.3 724.3L277 727.7L280 731.7L283 735.6M272.2 729.2L270.2 733.7L268.5 738.4L265.5 742.5M273 731.5L277.2 734.2L281.5 736.8L285.4 739.8M275.8 741L272.9 745.1L269.2 748.5L266.4 752.6M265.3 733.1L262.3 737.1L259.8 741.5L257.7 746M250.4 734.5L246.8 731L242.4 728.7L238.6 725.5M245.6 735.6L240.6 735.7L235.7 736.9L230.9 738.3M267.4 745L271.7 747.5L276.2 749.7L281.2 750.5M267.2 750L269.2 754.6L272.4 758.5L275.3 762.5M205.2 751.9L201.9 755.6L197.9 758.6L194.5 762.2M195.5 751.4L193.2 755.9L190.8 760.3L188.8 764.9M211.8 761.1L209.9 765.8L209.3 770.7L209.9 775.7L209.8 780.7L210 785.7L210.6 790.7M277.1 680.3L274.7 676L271.3 672.3L268.4 668.3M251.6 690.8L252.4 695.7L253.3 700.6L253.9 705.6L253.6 710.6L253 715.5M262.7 680.8L259.2 684.4L255.7 688L251.7 691M243 685.1L241.8 690L242 695L243.5 699.7M260.7 713.4L262.6 718.1L263.6 723L263.1 727.9L263.3 732.9L264.5 737.8M258.3 717.9L258.7 722.8L257.4 727.7L255.5 732.3L253 736.7M251.3 731L247.8 734.7L243.4 737L240.1 740.8L237.8 745.2M248.4 735.1L247.1 740L247 745L245.3 749.7L244.7 754.6L244.8 759.6M246.4 739.7L247.2 744.6L247.3 749.6L246.4 754.6L244.8 759.3L244.8 764.3M228.4 689.2L225.8 693.5L223.9 698.2L222.4 702.9M223.8 701.9L219.6 704.6L215.4 707.4L211 709.7L206.1 710.7L201.2 711.6L196.7 713.7L192.4 716.3L188.2 719M186.7 723.5L184 727.7M312.3 748.5L308.2 751.5L303.9 753.9L299.1 755.3M305.2 800.4L309.6 802.7L313 806.4L317.4 808.9L320.9 812.4L325 815.3L328.7 818.6L332.4 822M302 813.8L299.5 818.1L296.8 822.3L294 826.4L291.3 830.7L287.6 833.9L283.3 836.6L278.7 838.6M372.6 741.7L376.3 745L379.7 748.6L383 752.4M376.8 739L379 734.5L380.8 729.8L383.3 725.5M352.6 767.5L356.9 770.2L361.1 772.9L363.9 777M379.5 773.7L381 769L382.3 764.1L383 759.2M311.5 781.6L306.9 779.5L302 779.1L297 778.4M350.2 799.1L347.9 803.5L346.9 808.4L346.2 813.4M351.2 797.8L355.8 795.8L360.4 793.8L365.4 793.7M345 806.6L349.7 808.4L354.5 809.6L359.5 809.8M352.1 805.3L355.5 809L358.3 813.1L360.2 817.8L361.7 822.5L364.4 826.7L366.5 831.3M352.8 810.6L355.2 815L358.2 819L361.1 823.1L363.5 827.5L366.4 831.6L368.6 836.1L369 841.1M353.4 815.4L356.5 819.4L357.9 824.2L358.5 829.1L358.6 834.1L360.1 838.9M353.8 818.8L355.4 823.5L355.2 828.5L356.1 833.5L357.3 838.3M374.7 723.6L376.3 728.4L378.3 732.9L379.4 737.8M379.8 726.4L378.8 731.3L377.7 736.2L378.1 741.2M374.5 721.6L373.7 726.6L372.8 731.5L372.4 736.5M372.1 734.7L369 738.6L366.6 743L363.3 746.7L359.1 749.4L354.8 752.1M375.6 749.1L372.8 753.3L369.1 756.7L364.9 759.4L361.9 763.3L358.6 767.1L355.2 770.8M383.9 771.9L388.9 771.3L393.9 771.2L398.7 769.8L403.5 768.6L408.4 767.2L413.4 767.2M361.1 762.6L364.6 766.2L368.2 769.6L372.5 772.1L376.9 774.6M360.5 772.5L357.7 776.6L354.6 780.6L350.4 783.3L346 785.7L341.3 787.4L337.3 790.4M362.2 740L364.1 744.6L366.2 749.2L368.5 753.6L369.6 758.5M364 744.7L368.6 746.5L372.7 749.4L377.1 751.8M381.1 762.4L384.1 766.4L387.2 770.3L388.9 775M384.1 766.4L385 771.3L385.1 776.3L385.1 781.3L384.4 786.2M360.2 773.9L364.5 776.6L368 780.1L370.7 784.3M369.5 758.6L374.4 759.4L379.4 758.9L384.3 759.7L388.9 761.8L393.2 764.3L397.9 766L402.2 768.5L406.2 771.5L410.5 774.1L414.2 777.5M362.2 803.7L360.7 808.5L358.7 813.1L355.6 817L352.8 821.2L350.7 825.7L348.7 830.3M401.4 682.6L404.7 678.9L408.2 675.3L412.5 672.7M373.2 740.6L371 745.1L367.9 749.1L366.3 753.8M419.2 702.6L424.2 702.6L429.1 703.6L434.1 704.4M429 691.6L431.7 687.4L434.3 683.1L435.8 678.3M382.3 753.8L384.5 758.3L385.4 763.3L385.3 768.3M382 758.8L378.4 762.3L374.1 764.9L370.2 768M438.9 711.4L443.8 710.2L448.3 708.1L452.2 705M437.6 728.3L439.1 733.1L440 738L439.4 742.9M394.2 766.8L389.3 765.8L384.3 765.6L379.6 767.3M418.9 761.9L423.8 761.4L428.6 759.8L433.1 757.7M410.2 710.4L412.7 714.7L415.5 718.9L416.7 723.7M382.4 737.9L383.1 742.8L383.2 747.8L382.6 752.8M366.8 748.3L366.9 753.3L368.5 758L370.5 762.6M376.9 745.8L375 750.5L373.4 755.2L370.3 759.1M371.9 745.8L367.2 747.5L362.3 748.3L357.3 747.7M400 768.7L404.9 769.8L409.8 770.6L414 773.3M420.7 800.4L416.6 803.2L413 806.7L408.6 809.1L404.2 811.5L399.9 814.1L395.4 816.2L390.9 818.5L387.8 822.3L383.8 825.4L379.2 827.4L375.1 830.3M410.6 810.4L406.3 812.9L401.5 814.3L396.8 815.9L392.4 818.4L389.4 822.4L386.3 826.2M404.1 728.1L405.3 733L406 737.9L408.1 742.5M404.2 697.2L408.7 695.2L413.7 694.6L418.6 693.5M422.9 697.9L427.9 698.7L432.9 698.8L437.8 697.8L442.2 695.5L447.2 695.1M424.8 701.6L427.5 705.9L431.3 709L434.8 712.6M421.7 712L419 716.2L415.1 719.4L411 722.2L408 726.2L404.8 730.1L403.4 734.8M424.8 718.5L427 723L428.6 727.8L429.8 732.6L430.2 737.6L430.4 742.6M436.7 691.8L441.5 690.2L446 688.1L450.5 685.9L455 683.7L459.1 680.9M442.9 693.4L445.6 697.7L449.4 700.8L454 702.8L458.7 704.5L463.1 707L467.9 708.3M454.1 697.1L456.2 701.7L457.9 706.4L459.5 711.1L461.4 715.7M273.1 736.8L268.7 734.5L263.8 733.3L258.9 733.6L253.9 733.3L249.2 735.1M300.1 735.7L302.9 739.8L306.2 743.6L309.2 747.6L312.1 751.7M312.4 744.2L317.4 743.7L322.2 744.9L327.2 744.6L332 743.3L336.5 740.9L341.4 740M319.9 750.8L321.8 755.4L323.3 760.2L324.6 765M322 755.3L319.9 759.9L317.3 764.1L314.8 768.4L311.9 772.5L309.4 776.9M325.3 759.1L330.2 758.3L335.2 758L339.9 759.8M327.8 763.4L326.7 768.3L325.1 773L324 777.9L323.4 782.8L321.3 787.4L319.9 792.1M291.2 731.5L295.4 734.1L300.1 735.7L304.5 738.2L308.1 741.7L312.4 744.2L316.2 747.4L319.9 750.8L322 755.3L325.3 759.1L327.8 763.4M292.8 739.8L296.6 743L301 745.5L305.7 747.2L310.6 747.9L315.6 748.7L320.2 750.5L325 751.9L329.9 752.9M296.6 753.5L293.2 757.1L290.3 761.2L287.6 765.4L284 768.9L280.1 771.9M287 787L286.1 791.9L283.7 796.3L280.7 800.4L279.1 805.1L276.2 809.1M340.3 772.8L344.4 770L349.3 769.1L354.2 767.7L358.8 765.8M349.9 775.7L354.4 773.5L358.3 770.4L361.5 766.6L366 764.4L370.8 763M321.5 800.1L316.9 801.9L313.2 805.3L309.5 808.7L305.4 811.5M327.4 781L326.4 785.9L324.5 790.5L322.8 795.2L321.5 800.1L321.1 805.1L320.5 810L319.3 814.9L317 819.3L314.2 823.4L311.8 827.8L308.1 831.3M328.9 790.2L325.6 793.9L321.6 797L317.2 799.3L313.9 803.1M328.1 793.6L330.1 798.2L330.4 803.2L331.7 808L332.1 813L333.1 817.9L332.8 822.9L332.6 827.9M320.4 810.4L319.7 815.4L317.8 820L317.5 825L318.2 829.9L319.8 834.7M378.9 746.9L374.8 744.1L372.1 739.8L369.5 735.6L367.9 730.9L366.2 726.2L365.1 721.3M266.5 720.3L261.5 719.8L256.7 720.9L252 722.7L248 725.7L244 728.6L240.7 732.4L236.4 735L232.2 737.7L228.5 741L224.3 743.8L220.9 747.5M220.1 723.5L215.2 724.2L210.2 725L205.2 724.9L200.4 726.3L196.3 729L193.5 733.2L190.2 737M340.5 750.3L340.4 755.3L340.3 760.3L341 765.2L340.9 770.2L341 775.2L342.7 779.9L345.6 784L348.4 788.1M437.4 746.9L436.5 751.9L434.7 756.5L431.5 760.3L427.7 763.6L424 766.9L419.9 769.8L415.4 772M454.1 783.7L453.3 788.6L453.1 793.6L453 798.6L452 803.5L449.5 807.8M245.6 739.6L245.3 744.6L243.5 749.2L242.7 754.2L241.3 759L238.7 763.3L235.1 766.7L232.9 771.2M225.1 767L222.3 771.1L221.2 776L220.3 780.9L218 785.3L216.9 790.2M365.4 677.9L370.4 677.9L375.2 679.4L380.2 680.2L384.9 681.7L389.4 683.9L394.2 685.5M370.4 678.3L373.5 682.3L376.1 686.6L377.8 691.3L380.4 695.5L383 699.8L386 703.8L389.5 707.3L392 711.7L393 716.6L393.3 721.5M398.8 697.7L403.6 699.2L408.4 700.5L413.3 701.8L418 703.5L422 706.5L426.4 708.8L430 712.3L434.1 715.1L437 719.2L439.6 723.5M401.1 702.1L404.7 705.6L408.7 708.7L411.7 712.6L415.7 715.7L418.9 719.5L421.3 723.9L424.7 727.5L426.9 732L428.2 736.8M406.7 710.3L411.6 709.5L416.5 708.4L421.5 708.1L426.4 707L431.4 706.7L436 708.5L440.9 709.6L445.9 709.7L450.4 711.8L455 713.9L458.9 717M415.2 715.3L417.8 719.6L420.4 723.9L423.6 727.7L426 732.1L429.1 736L431.5 740.4L434.9 744.1L439.2 746.6L443.7 748.8L448.7 749.5M371.8 683.8L370.3 688.6L368 693L365.9 697.5L362.6 701.2L359.7 705.3L358 710L357 714.9M368.4 730.6L363.5 731.6L358.5 732L353.7 733.3L348.7 733.7L343.8 732.9L338.8 732.7L334.1 734.4L329.2 735.7L324.2 735.7L319.3 734.7L314.8 732.5L309.8 732.3L305 731.1L300 731.5M361.5 743.9L361.9 748.9L361.8 753.9L360.3 758.6L358.7 763.4L355.6 767.3L351.6 770.2L347.4 773L344.3 776.9L342.3 781.5M354.5 750.9L354.7 755.9L354.5 760.9L352.7 765.6L351 770.3L349.1 774.9L346.4 779.1L345.1 783.9L343.8 788.7M351.9 755.2L355.1 759L357.5 763.4L358.4 768.4L358.3 773.4L357.5 778.3L356.5 783.2L355.3 788L354.3 792.9L352.4 797.6L349.2 801.5L345.7 805L341.7 808L338 811.3M349.7 759.7L345.6 762.5L341.3 765.1L338.3 769.1L334.9 772.8L332.5 777.1L331.7 782.1L332.5 787L332.7 792L332.9 797L331.5 801.8L331.6 806.8L332 811.8L330.8 816.6M274.9 703.3L270 704.1L265.8 706.9L261.5 709.4L258.2 713.2L255.1 717.1L252.4 721.3L249.7 725.5L246.7 729.5L244.1 733.8M267.6 716.1L270 720.5L272.9 724.5L276.3 728.3L279.9 731.7L282.6 735.9L284.1 740.7L285.2 745.5L286.7 750.3L287.9 755.2M369 673.8L370.4 678.6L372.2 683.3L372.3 688.3L374.1 693M373.8 675.2L376.5 679.4L378.9 683.8L380.8 688.4L381.9 693.3M381.7 681.4L386.7 681.7L391.5 682.8L395.6 685.7L400 688M393.4 697.5L395.8 701.9L398.6 706L401.4 710.1L405.4 713.1L407.9 717.5L411.6 720.8M291.4 696.4L287.4 699.3L282.7 701L277.7 701.5L272.8 702.4L267.8 702.7L262.8 702.6L258.1 704.3L253.1 705.1L248.6 707.1L245.1 710.7M376.7 675.4L380.6 672.2L384.5 669.1M406.1 679L410.3 676.2L415 674.7L420 674.5L424.9 675.6L429.2 678.1L432.5 681.9L436.6 684.8L440.2 688.3L444.4 690.9L449.3 692.1M415.5 681.9L416.2 686.9L415.2 691.8L414.1 696.7L413.3 701.6L412.7 706.6L413.6 711.5L416.1 715.8L419.6 719.4L423.5 722.6M425.5 692.6L430.5 693.1L435.2 694.9L440.1 695.8L445.1 696.3L449.6 698.5L454.1 700.6L457.5 704.3" fill="none" stroke="#bd6865" stroke-width="0.9" stroke-linecap="round" stroke-linejoin="round" opacity="0.65"/><path d="M280.6 707.1L276 705L271.6 702.6L267.2 700.3L263.5 696.9L260.3 693.1M273.8 714.4L274.2 719.4L273.3 724.3L272.2 729.2L272.5 734.2L274.5 738.8L276.4 743.4M272.1 721.6L272.2 726.6L273 731.5L275 736.1L275.8 741M269.9 731.2L265.3 733.1L260.3 733.8L255.4 734.9L250.4 734.5L245.6 735.6M266.7 735.1L267.2 740L267.4 745L267.2 750L266.2 754.9L264.4 759.6L261.8 763.8L259.7 768.4M220.1 750.3L215.2 751.1L210.2 751.8L205.2 751.9L200.4 750.7L195.5 751.4L190.6 752.7M292 681.7L287 681.9L282.1 681.3L277.1 680.3L272.2 680L267.2 679.2L262.4 680.4L258.4 683.4L255.3 687.4L251.6 690.8M281.7 686.7L277.1 684.7L272.1 684.2L267.4 682.4L262.7 680.8L257.8 679.8L252.9 680.7L248.2 682.3M269.8 691.6L265.7 688.8L262.2 685.2L257.6 683.2L252.6 683.4L247.6 683.3L243 685.1M263.6 693.8L263.8 698.8L262.8 703.7L261.8 708.6L260.7 713.4L258.3 717.9L256.6 722.5L253.8 726.7L251.3 731L248.4 735.1L246.4 739.7L243.1 743.4M257.1 695.7L252.4 693.8L247.8 692L243.3 689.7L238.3 689.6L233.4 689L228.4 689.2L223.4 688.6M250.3 697.3L246.7 700.7L242.9 704L239.3 707.5L236.1 711.4L233 715.2L230.7 719.7L227.9 723.9L226.9 728.8L225.7 733.6L224.8 738.5L225.6 743.5M315 724.3L314 729.2L314.8 734.1L315.4 739.1L314.4 744L312.3 748.5L311.7 753.5M346.1 755L350.8 753.4L355.3 751.1L359 747.7L363.6 745.9L367.8 743.2L372.6 741.7L376.8 739M350.2 757.9L351.7 762.6L352.6 767.5L352.3 772.5L353.7 777.3L354.3 782.3M362.6 766.1L367.5 767.1L372.4 767.8L377.1 769.5L382 770.4L387 771M374.6 774.7L379.5 773.7L384.2 771.9L388.3 769L392.6 766.5L397.3 764.9M326 777.8L321.3 779.5L316.4 780.6L311.5 781.6M310.8 790.7L309.6 795.6L310 800.5L311.1 805.4L312.4 810.3M344.1 791.4L347.9 794.6L350.2 799.1L353.7 802.6L358 805.2M346.7 795.7L351.2 797.8L354.7 801.4L358.3 804.8L360.7 809.3M347.8 805.5L351.6 808.8L354.2 813.1L357.9 816.4L360.3 820.8L362.2 825.4M350.6 815L348.4 819.5L347.8 824.5L346.9 829.4L344.7 833.9L341 837.3L336.7 839.8M344.5 794.4L348.2 797.8L351.8 801.2L356.2 803.7L360.8 805.6M343.5 804.3L338.9 806.3L335.3 809.8L331 812.4L328.2 816.5M345.2 791.6L344.6 796.6L344.9 801.6L345 806.6M374.3 718.6L374.7 723.6L374.2 728.6L375.4 733.5M378.3 721.6L379.8 726.4L382.2 730.8L384.6 735.2L386.8 739.7M370.6 718.5L374.5 721.6L379 723.8L383.6 725.8M369.3 725.2L371.1 729.8L372.1 734.7L374 739.4L375.7 744.1L375.6 749.1L376.2 754L376.8 759L378.1 763.8L380.5 768.2L383.9 771.9L387.8 775.1M363.7 733L363.9 738L363.4 743L361.8 747.7L361.6 752.7L360.7 757.6L361.1 762.6L360.2 767.6L360.5 772.5L361.7 777.4L363.6 782M361.5 735L362.2 740L364 744.7L365.7 749.4L367.2 754.1L367.6 759.1L366.4 764L364.1 768.4M362.9 745.6L367.2 748L370.8 751.6L373.8 755.6L377.3 759.1L381.1 762.4L384.1 766.4L385.4 771.2M365.1 750.1L362.5 754.4L360.5 759L360.2 764L359.8 769L360.2 773.9L360.9 778.9L362.9 783.5M371.2 679.6L370.1 684.5L369.7 689.4L369.1 694.4M377.3 687.4L380.9 690.8L384 694.8L388 697.8L392.6 699.7M384.9 693.7L389.2 691L392.7 687.5L396.8 684.6L401.4 682.6M367.8 721.6L368.6 726.5L370.5 731.2L372.7 735.7L373.2 740.6M364.6 725.4L360.5 728.4L356.5 731.3L352.8 734.7L348.5 737.3M398.8 715.9L403.2 713.4L407.6 711L412.4 709.8L417.4 710.3L422.4 710.3L427.2 709M408.3 712.7L413 714.4L417.9 715.3L422.3 717.6M412.6 710.1L416 706.4L419.2 702.6L422.1 698.5L424.9 694.4L429 691.6M427.2 706.9L430.3 703L434.9 700.9L439.9 700.7L444.9 700.8M441.4 703.5L445.8 701L450.7 700.6L455.6 699.4M379.9 744.3L381.9 748.9L382.3 753.8L382 758.8L382.3 763.8M434.9 720.5L437 716L438.9 711.4L442.4 707.8L446 704.4M423.6 725.9L428.4 724.8L433.4 725.7L437.6 728.3M407.1 738.2L404.3 742.4L401.5 746.5L398.7 750.6L397.4 755.4M408.4 753.1L405.1 756.8L401.7 760.5L397.4 762.9L394.2 766.8M409.7 757.9L414.4 759.5L418.9 761.9L422.9 764.8M390.4 711.2L395.4 711.2L400.3 710.5L405.2 709.5L410.2 710.4L414.5 712.9M378.9 728.6L380.1 733.4L382.4 737.9L383.2 742.8L382.3 747.7L382.3 752.7M365.7 743.4L366.8 748.3L367.8 753.2L368.2 758.2L369 763.1L369.8 768.1M386.5 743.1L381.8 744.8L376.9 745.8L371.9 745.8L366.9 746.1M390.1 757.6L394.1 760.6L397.3 764.5L400 768.7L403.7 772.1M417.2 759.6L418.4 764.4L419.5 769.3L421 774L424.1 778L426.1 782.6L427.7 787.3L429.6 792L432.3 796.2L436.1 799.4M394 701.6L396.6 705.9L400.3 709.2L402.5 713.7L404.5 718.3L405.2 723.2L404.1 728.1M400.3 694.1L404.2 697.2L408.6 699.6L412.4 702.9L415.2 707M391.7 717.2L393.3 721.9L395.1 726.6L397.1 731.2L400.5 734.9M391.1 722.1L393.5 726.6L394.6 731.4L393.9 736.4L392.8 741.3M410.3 690.4L415.2 691.6L419.3 694.5L422.9 697.9L427.4 700.2L431.5 703L435.9 705.3L440.8 706.7L445.7 707L450.1 709.5M415.2 699.2L419.9 700.8L424.8 701.6L429.7 702.9L434.7 703.1L439.5 704.5M290.3 726.9L286 729.4L281.6 731.8L276.9 733.6L273.1 736.8L270.7 741.1L268.1 745.4L265.8 749.9L264.2 754.6L262.8 759.4M320.4 773.7L325.3 772.9L330.3 773.3L335.3 773L340.3 772.8L345.2 773.8L349.9 775.7L353.4 779.2L355.4 783.8L358.7 787.5L361.5 791.7M360.7 676.3L365.4 677.9L370.4 678.3L375.2 679.8L379.8 681.8L384.1 684.3L387.3 688.2L391.1 691.4L395.2 694.3L398.8 697.7L401.1 702.1L403.3 706.6L406.7 710.3L410.6 713.4L415.2 715.3L420.1 716.2L425.1 716.4L430.1 715.8M326 672.5L321 672L316.1 671.1L311.6 668.9L307.1 666.8M361.8 672.9L365.7 676L368.2 680.4L371.8 683.8L374.6 687.9L375.9 692.8L375.5 697.7L375.2 702.7L375.4 707.7L375.8 712.7L375.6 717.7L374.3 722.5L371.4 726.6L368.4 730.6L366.1 735.1L364.2 739.7L361.5 743.9L358.4 747.9L354.5 750.9L351.9 755.2L349.7 759.7L347.2 764M316.7 670.4L311.8 671.5L307.4 674L303.7 677.3L300.1 680.8L295.7 683.2L290.9 684.5L286.8 687.4L284 691.5L281.4 695.8L277.6 699.1L274.9 703.3L271.6 707L269.1 711.3L267.6 716.1L266.9 721.1M360 669.6L364.5 671.7L369 673.8L373.8 675.2L378 678L381.7 681.4L384.4 685.6L387.9 689.1L390.3 693.5L393.4 697.5L396.7 701.2L400.2 704.8M319.5 672.8L314.5 673.7L309.6 674.1L304.9 675.9L301.1 679.1L297.6 682.7L295.1 687.1L293.4 691.8L291.4 696.4L290.2 701.2L289.5 706.2L289 711.1L288 716L288.1 721L288.8 726L289.5 730.9L288.4 735.8M357.3 673.1L362.3 672.5L367.3 672.5L371.8 674.6L376.7 675.4L381.6 676.7L386.6 676.6L391.5 676.2L396.4 677.2L401.4 677.2L406.1 679L411.1 679.7L415.5 681.9L419.8 684.6L423.3 688.1L425.5 692.6L427.5 697.2L429.1 701.9" fill="none" stroke="#bd6865" stroke-width="1.3" stroke-linecap="round" stroke-linejoin="round" opacity="0.85"/><path d="M293.7 700.1L288.9 701.5L284.8 704.5L280.6 707.1L276.8 710.4L273.8 714.4L271.9 719L268.6 722.8L265.7 726.8L263.2 731.2L262.6 736.1M273.6 716.8L272.1 721.6L271.8 726.6L269.9 731.2L266.7 735.1L262.6 737.9L258.8 741.2L254.4 743.6L250 745.9L245.5 748.1L242.1 751.7M229.8 740.7L230.5 745.6L232.5 750.2L233.9 755L233.8 760L235 764.9M330.5 699.8L326.2 702.2L322.9 706L321.3 710.8L319.5 715.4L317 719.7L315 724.3L314.3 729.3L313.1 734.1L313 739.1L312.7 744.1L312.9 749.1M327 751.3L332 751.4L337 751.1L341.8 752.4L346.1 755L350.2 757.9L354 761.1L358.6 763L362.6 766.1L366.2 769.5L370.1 772.7L374.6 774.7M335.9 760.8L334.5 765.6L332.3 770.1L328.7 773.6L326 777.8L322 780.9L317.8 783.5L314.4 787.2L310.8 790.7L308.1 794.9M340.5 767.8L338.8 772.5L338.5 777.5L340 782.3L341.8 786.9L344.1 791.4L346.7 795.7L347.9 800.5L347.8 805.5L348.5 810.5L350.6 815M345.7 779.6L344.9 784.5L345.5 789.5L344.5 794.4L343.6 799.3L343.5 804.3L342.6 809.2L341.7 814.2L339.2 818.5L336.5 822.7L332.9 826.2L330.2 830.4M348.4 787.8L345.2 791.6L341.7 795.2L339.6 799.7L339.1 804.7L340.4 809.6M365.3 706.9L367.7 711.3L370.4 715.5L374.3 718.6L378.3 721.6L382.6 724.3L386.9 726.7L390.4 730.3M370.5 713.5L370.6 718.5L371.6 723.4L373.8 727.9L375.9 732.4L378.7 736.6L382.1 740.3M371 717.3L374.5 720.8L376.7 725.3L378.9 729.9L379.7 734.8L379 739.7L379.7 744.7L378.8 749.6L378.5 754.6L378.9 759.6M363.5 673.2L367.5 676.2L371.2 679.6L374.7 683.1L377.3 687.4L380.7 691.1L384.9 693.7L387.9 697.7L391.8 700.8M380.6 700.1L377.8 704.3L375.6 708.8L372.8 713L370.5 717.4L367.8 721.6L364.6 725.4L361.2 729.1L356.9 731.6L352.3 733.7M383.8 704.4L384.5 709.4L385.6 714.3L386.8 719.1L387.8 724L387.2 729L386.7 734M390.6 713L388.3 717.5L387.3 722.4L386.3 727.3L383.8 731.6L382.1 736.3M393.9 716.8L398.8 715.9L403.6 714.5L408.3 712.7L412.6 710.1L417.5 709.5L422.4 708.2L427.2 706.9L431.6 704.6L436.4 703.1L441.4 703.5M397.2 720.2L394.4 724.3L390.7 727.7L388.5 732.2L386.2 736.6L383.6 740.9L379.9 744.3L377.8 748.8L376.6 753.7L375.3 758.5L373.6 763.2L372.8 768.1M400.4 723.2L405.4 723.2L410.4 722.5L415.4 722.6L420.3 723.3L425.3 722.7L429.9 721L434.9 720.5M403.7 725.9L408.7 726.4L413.6 727.2L418.6 726.6L423.6 725.9L428.5 726.6L433.5 727.4M407.3 728.2L407.5 733.2L407.1 738.2L408.2 743.1L408.3 748.1L408.4 753.1L409.7 757.9L411 762.7L412.9 767.3L413.4 772.3L414.1 777.3L415 782.2M415.1 731.5L420.1 731.3L424.8 733L429.3 735.2L433.3 738.3L436.7 741.9L441.1 744.2L446 745.5L450.3 748.1M452.1 735.2L455.3 739.1L458.9 742.5L463.3 744.9L467.9 746.7M459 734.4L463.5 732.4L468.2 730.7M381.6 706.6L386.2 708.5L390.4 711.2L395.1 713L399.9 714.4L404.8 715.2L409.3 717.3L413.3 720.3L416.6 724.1L419.8 727.9M385.6 721.2L382 724.6L378.9 728.6L375.6 732.3L371.8 735.5L368.7 739.4L365.7 743.4L364.1 748.2L361.9 752.7L359.7 757.2M388.9 733.6L386.9 738.1L386.5 743.1L387 748.1L388.5 752.9L390.1 757.6L392.7 761.9L395 766.3L397.6 770.6M391.9 737.2L396.9 737L401.9 737L406.8 737.8L411.8 738.3L416.7 739L421.2 741.3L425.7 743.5M378.7 676L383.4 674.3L388.4 674L393.3 674.6L398.2 675.7L403.1 676.6L408 677.8L412.7 679.4L416.6 682.5M385 679.2L388.2 683L391.1 687.1L392.6 691.9L394.1 696.6L394 701.6L393.6 706.6L393.5 711.6L393.1 716.6L393.8 721.5M399.7 684.1L400.2 689.1L400.3 694.1L399.5 699L398.3 703.8L396.1 708.3L393.2 712.4L391.7 717.2L391.1 722.1L389.8 727L390.1 732" fill="none" stroke="#bd6865" stroke-width="1.9" stroke-linecap="round" stroke-linejoin="round" opacity="0.85"/></g></g><g id="deb" filter="url(#sf)"><path d="M394.5 577.7L425.2 578.3L472.8 581.7L491.6 580.2L505.4 578.9L510.4 583.3L507.9 588.3L492.8 593.3L447.7 597.7L412.6 603.4L397.6 605.5L397.6 610.3L395.7 611.8L394.1 605.3Z" fill="#b86075" opacity=".5" stroke="#b86075" stroke-width="2" stroke-linejoin="round"/><path d="M394.5 577.7L425.2 578.3L472.8 581.7L491.6 580.2L505.4 578.9L510.4 583.3L507.9 588.3L492.8 593.3L447.7 597.7L412.6 603.4L397.6 605.5L397.6 610.3L395.7 611.8L394.1 605.3Z" fill="#8e0a26"/><path d="M480.8 584.7L482.5 582.7L484.9 580L487.6 576.7L490.5 573.4L493.3 570.3L495.6 567.8L497.4 565.9L499 564.3L500.5 563L501.9 561.8L503.4 560.6L505 559.2L507 557.8L509.1 556.2L511.4 554.7L513.5 553.2L515.4 552L516.7 551.1L512.9 545.4L511.6 546.2L509.7 547.4L507.5 548.8L505.1 550.4L502.8 552L500.7 553.5L498.9 554.8L497.3 556.1L495.6 557.4L494 558.8L492.2 560.5L490.1 562.5L487.6 565.1L484.8 568.2L481.8 571.6L478.9 574.8L476.5 577.5L474.8 579.4Z" fill="#a83650"/><path d="M498.4 588L500.7 589.1L504 590.5L507.7 592.2L511.6 594.1L515.3 595.9L518.2 597.5L520.6 599L522.8 600.6L524.9 602.3L526.8 603.9L528.7 605.5L530.6 607L532.3 608.3L533.9 609.4L535.3 610.4L536.6 611.2L537.6 611.9L538.4 612.4L542.6 606.8L541.8 606.2L540.8 605.4L539.7 604.5L538.3 603.4L536.9 602.3L535.4 601L533.8 599.6L532 598L530.1 596.2L527.9 594.3L525.4 592.3L522.6 590.4L519.3 588.5L515.5 586.4L511.5 584.4L507.7 582.6L504.5 581L502.3 579.9Z" fill="#a83650"/><path d="M542.8 609.6L556.1 616.7" stroke="#777" stroke-width=".9" fill="none"/><path d="M525.4 532.7L523.3 541.7M532.7 610.2L529.6 625.8" stroke="#f0b58a" stroke-width="4.2" stroke-linecap="round" fill="none" opacity=".9"/><path d="M516.3 580.6C517.8 580.2 522.6 579.8 525.2 578.1C527.7 576.4 530.4 571.8 531.5 570.5" stroke="#e8843a" stroke-width="7.1" stroke-linecap="round" stroke-linejoin="round" fill="none" opacity=".85"/><path d="M530.2 588.2C531.2 589 534.8 591.1 536.5 593.2C538.2 595.3 538.6 598.3 540.3 600.8C542 603.3 545.5 607.1 546.6 608.4" stroke="#e8843a" stroke-width="7.4" stroke-linecap="round" stroke-linejoin="round" fill="none" opacity=".85"/><path d="M550.4 595.7C551.6 595.3 555.8 594.9 558 593.2C560.1 591.5 562.2 586.9 563 585.6" stroke="#e8843a" stroke-width="7.1" stroke-linecap="round" stroke-linejoin="round" fill="none" opacity=".85"/><path d="M520.1 546.5C521.2 547.3 525.4 550.2 526.4 551" stroke="#e8843a" stroke-width="6.4" stroke-linecap="round" stroke-linejoin="round" fill="none" opacity=".85"/><path d="M537.8 559.2C538.4 560.4 540.9 565.5 541.6 566.7" stroke="#e8843a" stroke-width="6.4" stroke-linecap="round" stroke-linejoin="round" fill="none" opacity=".85"/><path d="M511.3 566.7C511.1 568 510.2 573 510 574.3" stroke="#e8843a" stroke-width="6" stroke-linecap="round" stroke-linejoin="round" fill="none" opacity=".85"/><path d="M512.5 546.5C513.8 547.6 517.2 552.4 520.1 552.8C523 553.3 527.5 550.3 530.2 549.1C532.9 547.8 535.5 545.9 536.5 545.3" stroke="#ad982c" stroke-width="9.2" stroke-linecap="round" stroke-linejoin="round" fill="none" opacity=".85"/><path d="M518.8 542.8C519.3 544.6 521.6 550.3 521.4 554.1C521.2 557.9 519.3 562.7 517.6 565.5C515.9 568.2 512.3 569.7 511.3 570.5" stroke="#ad982c" stroke-width="8.8" stroke-linecap="round" stroke-linejoin="round" fill="none" opacity=".85"/><path d="M525.2 554.1C526.4 555.2 530.6 558.3 532.7 560.4C534.8 562.5 536.9 565.7 537.8 566.7" stroke="#ad982c" stroke-width="8.1" stroke-linecap="round" stroke-linejoin="round" fill="none" opacity=".85"/><path d="M510 571.8C510.4 573 510.9 577.4 512.5 579.3C514.2 581.2 518.8 582.5 520.1 583.1" stroke="#ad982c" stroke-width="7.8" stroke-linecap="round" stroke-linejoin="round" fill="none" opacity=".85"/><path d="M537.8 566.7C538.4 568 539.4 573.4 541.6 574.3C543.7 575.1 546.6 572.8 550.4 571.8C554.2 570.7 561.9 568.6 564.3 568" stroke="#ad982c" stroke-width="9.2" stroke-linecap="round" stroke-linejoin="round" fill="none" opacity=".85"/><path d="M547.9 571.8C549.3 572.5 554.2 576 556.7 576.2C559.2 576.4 561.9 573.6 563 573" stroke="#ad982c" stroke-width="7.8" stroke-linecap="round" stroke-linejoin="round" fill="none" opacity=".85"/><path d="M530.2 584.4C531.5 586.3 535.7 592.8 537.8 595.7C539.9 598.7 542 601 542.8 602" stroke="#ad982c" stroke-width="8.1" stroke-linecap="round" stroke-linejoin="round" fill="none" opacity=".85"/><path d="M544.1 600.8C545.8 600.6 551.2 600.8 554.2 599.5C557.1 598.3 560.5 594.3 561.7 593.2" stroke="#ad982c" stroke-width="7.8" stroke-linecap="round" stroke-linejoin="round" fill="none" opacity=".85"/><path d="M536.5 578.1C535.7 578.9 533.1 582.1 531.5 583.1C529.8 584.2 527.3 584.2 526.4 584.4" stroke="#ad982c" stroke-width="7.1" stroke-linecap="round" stroke-linejoin="round" fill="none" opacity=".85"/><path d="M525.2 585.9C526.4 585.1 530.4 582.4 532.7 580.8C535 579.3 538 577.5 539 576.8" stroke="#5cb83a" stroke-width="3.9" stroke-linecap="round" stroke-linejoin="round" fill="none" opacity=".85"/><path d="M547.9 565.5C549 565.7 553.6 566.7 554.8 567" stroke="#5cb83a" stroke-width="3.2" stroke-linecap="round" stroke-linejoin="round" fill="none" opacity=".85"/><path d="M511.3 560.4C511.7 561.5 513.6 565.7 514 566.7" stroke="#5cb83a" stroke-width="3.2" stroke-linecap="round" stroke-linejoin="round" fill="none" opacity=".85"/><path d="M532.7 590.7C533.6 591.7 536.9 595.9 537.8 597" stroke="#e8843a" stroke-width="5.3" stroke-linecap="round" stroke-linejoin="round" fill="none" opacity=".85"/><path d="M531.5 575.6C532.4 575 536.2 572.9 537.1 572.4" stroke="#b03050" stroke-width="2.1" stroke-linecap="round" stroke-linejoin="round" fill="none" opacity=".85"/><path d="M519.2 580.8C520.4 580.4 524 579.7 526.7 578.3C529.4 576.9 534 573.6 535.5 572.7" stroke="#e8843a" stroke-width="7.2" stroke-linecap="round" stroke-linejoin="round" fill="none" opacity=".8"/><path d="M526.7 585.2C528.1 586 533 587.7 535.5 590.2C538 592.7 540.7 598.6 541.7 600.2" stroke="#e8843a" stroke-width="6.3" stroke-linecap="round" stroke-linejoin="round" fill="none" opacity=".8"/><path d="M512.3 567.7C513.1 568.9 516.5 573.9 517.3 575.2" stroke="#e8843a" stroke-width="5.6" stroke-linecap="round" stroke-linejoin="round" fill="none" opacity=".8"/><path d="M548 591.5C549.5 590.9 554.3 589.6 556.8 588.3C559.3 587.1 562 584.7 563 583.9" stroke="#e8843a" stroke-width="5.6" stroke-linecap="round" stroke-linejoin="round" fill="none" opacity=".8"/><path d="M537.3 551.4C537.9 552.8 540 558.7 540.5 560.1" stroke="#e8843a" stroke-width="4.7" stroke-linecap="round" stroke-linejoin="round" fill="none" opacity=".8"/><path d="M540.5 568.9C541.7 569.5 545.5 572.5 548 572.7C550.5 572.9 554.3 570.6 555.5 570.2" stroke="#ad982c" stroke-width="5.3" stroke-linecap="round" stroke-linejoin="round" fill="none" opacity=".8"/><path d="M551.2 562.7L554 562.5L554.4 560.3L555.9 560.6M563 583.3L564.7 584.6L561.7 586.4L562.3 585M559.6 594.4L558.9 596.5L558.5 599.6L561.1 596.8M547.1 613.4L549.4 613.9L549.7 613.3L547.8 612.1M557.9 591.8L561.2 594.7L561.7 596.2L559.6 598.5M555.8 560.4L555.2 557.9L553.7 559.8L556.4 556.6M549.3 622L547.5 618.7L544 615.9L544.2 619.1M557.8 593.7L561 596.5L560.1 596.3L560.3 597.3M546 615.1L547.6 618.1L547.1 616.4L545.7 615.3M546.8 611.3L547.7 611.1L548.9 610L550.4 611.7M543.8 615.4L544.5 613.1L542.3 614.9L544.7 613.2M547.6 611.3L545.6 613.4L543.8 611.2L543.3 612.6M549.3 560.7L546.3 562.4L544.3 562.9L542.7 565M558.2 597.1L560.4 598.1L562.5 597L559.9 595.5" stroke="#46e046" stroke-width=".7" fill="none" opacity=".75"/><path d="M531.6 608L532.8 608.6L534.6 609.5L536.6 610.6L538.5 611.7L540.3 612.6L541.5 613.2L544.1 609L543.1 608.2L541.5 607L539.6 605.7L537.7 604.4L536.1 603.3L535.1 602.4Z" fill="#3f9a52"/></g></defs>
<use href="#tree" x="0" y="0"/><use href="#roots" x="0" y="0"/><use href="#deb" x="0" y="0"/>
<use href="#tree" x="632.6" y="1"/><use href="#roots" x="632.6" y="1"/><use href="#deb" x="632.6" y="1"/>
<use href="#tree" x="1281" y="-3"/><use href="#roots" x="1281" y="-3"/><use href="#deb" x="1281" y="-3"/>
<path d="M205 177C212.5 175.2 235.5 169.1 250 166C264.5 162.9 278.7 160.4 292 158.5C305.3 156.6 317.8 155.3 330 154.5C342.2 153.7 351.2 153.1 365 153.5C378.8 153.9 400.5 155.1 413 157C425.5 158.9 432.7 162 440 165C447.3 168 451.3 170.8 457 175C462.7 179.2 469.2 184.5 474 190C478.8 195.5 482.7 201 486 208C489.3 215 492.2 224 494 232C495.8 240 496.7 248 497 256C497.3 264 496.7 272.2 496 280C495.3 287.8 494.5 296.3 493 303C491.5 309.7 489.3 314.5 487 320C484.7 325.5 484 327.8 479 336C474 344.2 466.2 357.3 457 369C447.8 380.7 433.5 396.2 424 406C414.5 415.8 406.2 422.2 400 428C393.8 433.8 390.7 435.7 387 441C383.3 446.3 380.3 453.8 378 460C375.7 466.2 374.5 471.8 373 478C371.5 484.2 370 490 369 497C368 504 367.4 509.5 367 520C366.6 530.5 366.7 547.5 366.6 560C366.5 572.5 366.4 587 366.6 595C366.8 603 367 603.7 368 608C369 612.3 370.4 617.5 372.4 621C374.4 624.5 377.4 626.5 380 629C382.6 631.5 383.3 633.4 388.3 635.7C393.3 638 402.8 640.6 410 643C417.2 645.4 424.8 648 431.5 650C438.2 652 443.8 653.3 450 655C456.2 656.7 462.3 658.8 469 660C475.7 661.2 484.2 661.2 490 662C495.8 662.8 499.3 663.5 503.6 664.5C507.9 665.5 512.6 666.6 516 668C519.4 669.4 521.5 671 523.7 673C525.9 675 527.8 677.2 529 680C530.2 682.8 530.6 684.9 531 690C531.4 695.1 531.5 703.1 531.5 710.6C531.5 718.1 531.3 727.8 531 735C530.7 742.2 530.5 747.2 529.5 753.9C528.5 760.6 526.9 768.8 525 775C523.1 781.2 520.2 786.5 518 791.3C515.8 796.1 514.4 800.1 512 804C509.6 807.9 507.3 811.1 503.6 814.4C499.9 817.7 494.8 821.1 490 824C485.2 826.9 480.5 829.4 474.7 831.7C468.9 834 462.2 836.1 455 838C447.8 839.9 441.5 842 431.5 843.2C421.5 844.4 407 844.7 395 845C383 845.3 370.2 845.2 359.4 845C348.6 844.8 339.6 844 330 843.5C320.4 843 310.1 842.7 301.8 841.8C293.5 840.9 286.7 839.5 280 838C273.3 836.5 268.4 835.2 261.4 833C254.4 830.8 245.7 827.6 238 824.5C230.3 821.4 222.5 818.1 215.3 814.4C208.1 810.6 201.7 806.3 195 802C188.3 797.7 180.2 792.6 175 788.4C169.8 784.2 166.9 780.8 164 777C161.1 773.2 159.2 769.6 157.7 765.4C156.2 761.2 155.3 756.3 154.8 752C154.3 747.7 154.3 744.1 154.8 739.4C155.3 734.7 156.6 728.8 158 724C159.4 719.2 160.6 716.3 163.4 710.6C166.2 704.9 171.2 696.8 175 690C178.8 683.2 182.7 676.7 186.5 670C190.3 663.3 194.2 656.7 198 650C201.8 643.3 206 636.7 209.5 630C213 623.3 216.1 616.8 219 610C221.9 603.2 224.9 596.2 227 589.5C229.1 582.8 230.5 576.2 231.5 570C232.5 563.8 233.1 557.8 233 552C232.9 546.2 232 540.8 231 535C230 529.2 229.5 523.8 227 517.5C224.5 511.2 220.2 503.6 216 497C211.8 490.4 207.5 484.1 202 478C196.5 471.9 188.8 466.8 183 460.5C177.2 454.2 171.9 446.8 167 440C162.1 433.2 158.3 427.3 153.5 420C148.7 412.7 142.9 403.8 138 396C133.1 388.2 127.7 379.7 124 373C120.3 366.3 118.1 361.5 116 356C113.9 350.5 112.5 346.8 111.5 340C110.5 333.2 110.2 323 110 315C109.8 307 109.8 300.8 110 292C110.2 283.2 110.5 271.7 111 262C111.5 252.3 112 240.7 113 234C114 227.3 115.2 225.7 117 222C118.8 218.3 120.2 215.8 124 212C127.8 208.2 133.8 202.7 140 199C146.2 195.3 153.5 192.3 161 190C168.5 187.7 176.5 186.2 185 185C193.5 183.8 203.2 183.4 212 183C220.8 182.6 233.7 182.6 238 182.5" fill="none" stroke="#31a046" stroke-width="4.3" stroke-dasharray="26 12"/>
<path d="M421.4 531.9C425.4 531.8 433.5 531.1 445.2 531.3C456.9 531.5 477.4 532.1 491.6 533.2C505.8 534.4 519.8 536.4 530.4 538.2C541 540 547.9 541.8 555 544C562.1 546.2 568.3 547.7 573 551.4C577.7 555.1 580.9 561.6 583 566.4C585.1 571.2 585.2 575.6 585.5 580C585.8 584.4 586 587.7 585 592.7C584 597.8 581.5 605.8 579.3 610.3C577.1 614.8 574.7 617.3 572 620C569.3 622.7 567 625.1 563 626.6C559 628.1 558.9 628.5 548 629C537.1 629.5 513.6 630.3 497.9 629.7C482.2 629.1 466.1 626.9 454 625.3C441.9 623.7 434.6 621.8 425.2 620.3C415.8 618.8 404.5 618.6 397.6 616.5C390.7 614.4 387.1 611 383.8 607.8C380.5 604.5 379.4 600.8 378 597C376.6 593.2 376 589.2 375.7 585.2C375.4 581.2 375.4 576.5 376.3 572.7C377.2 568.9 378.6 566 381.3 562.6C384 559.2 386.1 556.4 392.6 552.6C399.1 548.9 415.6 542.2 420.2 540.1" fill="none" stroke="#ffc000" stroke-width="3.8" stroke-dasharray="29 12"/>
<path d="M205 177C212.5 175.2 235.5 169.1 250 166C264.5 162.9 278.7 160.4 292 158.5C305.3 156.6 317.8 155.3 330 154.5C342.2 153.7 351.2 153.1 365 153.5C378.8 153.9 400.5 155.1 413 157C425.5 158.9 432.7 162 440 165C447.3 168 451.3 170.8 457 175C462.7 179.2 469.2 184.5 474 190C478.8 195.5 482.7 201 486 208C489.3 215 492.2 224 494 232C495.8 240 496.7 248 497 256C497.3 264 496.7 272.2 496 280C495.3 287.8 494.5 296.3 493 303C491.5 309.7 489.3 314.5 487 320C484.7 325.5 484 327.8 479 336C474 344.2 466.2 357.3 457 369C447.8 380.7 433.5 396.2 424 406C414.5 415.8 406.2 422.2 400 428C393.8 433.8 390.7 435.7 387 441C383.3 446.3 380.3 453.8 378 460C375.7 466.2 374.5 471.8 373 478C371.5 484.2 370 490 369 497C368 504 367.4 509.5 367 520C366.6 530.5 366.7 547.5 366.6 560C366.5 572.5 366.4 587 366.6 595C366.8 603 367 603.7 368 608C369 612.3 370.4 617.5 372.4 621C374.4 624.5 377.4 626.5 380 629C382.6 631.5 383.3 633.4 388.3 635.7C393.3 638 402.8 640.6 410 643C417.2 645.4 424.8 648 431.5 650C438.2 652 443.8 653.3 450 655C456.2 656.7 462.3 658.8 469 660C475.7 661.2 484.2 661.2 490 662C495.8 662.8 499.3 663.5 503.6 664.5C507.9 665.5 512.6 666.6 516 668C519.4 669.4 521.5 671 523.7 673C525.9 675 527.8 677.2 529 680C530.2 682.8 530.6 684.9 531 690C531.4 695.1 531.5 703.1 531.5 710.6C531.5 718.1 531.3 727.8 531 735C530.7 742.2 530.5 747.2 529.5 753.9C528.5 760.6 526.9 768.8 525 775C523.1 781.2 520.2 786.5 518 791.3C515.8 796.1 514.4 800.1 512 804C509.6 807.9 507.3 811.1 503.6 814.4C499.9 817.7 494.8 821.1 490 824C485.2 826.9 480.5 829.4 474.7 831.7C468.9 834 462.2 836.1 455 838C447.8 839.9 441.5 842 431.5 843.2C421.5 844.4 407 844.7 395 845C383 845.3 370.2 845.2 359.4 845C348.6 844.8 339.6 844 330 843.5C320.4 843 310.1 842.7 301.8 841.8C293.5 840.9 286.7 839.5 280 838C273.3 836.5 268.4 835.2 261.4 833C254.4 830.8 245.7 827.6 238 824.5C230.3 821.4 222.5 818.1 215.3 814.4C208.1 810.6 201.7 806.3 195 802C188.3 797.7 180.2 792.6 175 788.4C169.8 784.2 166.9 780.8 164 777C161.1 773.2 159.2 769.6 157.7 765.4C156.2 761.2 155.3 756.3 154.8 752C154.3 747.7 154.3 744.1 154.8 739.4C155.3 734.7 156.6 728.8 158 724C159.4 719.2 160.6 716.3 163.4 710.6C166.2 704.9 171.2 696.8 175 690C178.8 683.2 182.7 676.7 186.5 670C190.3 663.3 194.2 656.7 198 650C201.8 643.3 206 636.7 209.5 630C213 623.3 216.1 616.8 219 610C221.9 603.2 224.9 596.2 227 589.5C229.1 582.8 230.5 576.2 231.5 570C232.5 563.8 233.1 557.8 233 552C232.9 546.2 232 540.8 231 535C230 529.2 229.5 523.8 227 517.5C224.5 511.2 220.2 503.6 216 497C211.8 490.4 207.5 484.1 202 478C196.5 471.9 188.8 466.8 183 460.5C177.2 454.2 171.9 446.8 167 440C162.1 433.2 158.3 427.3 153.5 420C148.7 412.7 142.9 403.8 138 396C133.1 388.2 127.7 379.7 124 373C120.3 366.3 118.1 361.5 116 356C113.9 350.5 112.5 346.8 111.5 340C110.5 333.2 110.2 323 110 315C109.8 307 109.8 300.8 110 292C110.2 283.2 110.5 271.7 111 262C111.5 252.3 112 240.7 113 234C114 227.3 115.2 225.7 117 222C118.8 218.3 120.2 215.8 124 212C127.8 208.2 133.8 202.7 140 199C146.2 195.3 153.5 192.3 161 190C168.5 187.7 176.5 186.2 185 185C193.5 183.8 203.2 183.4 212 183C220.8 182.6 233.7 182.6 238 182.5" fill="none" stroke="#31a046" stroke-width="3.7" stroke-dasharray="24 11" transform="translate(632.6 1)"/>
<path d="M421.4 531.9C425.4 531.8 433.5 531.1 445.2 531.3C456.9 531.5 477.4 532.1 491.6 533.2C505.8 534.4 519.8 536.4 530.4 538.2C541 540 547.9 541.8 555 544C562.1 546.2 568.3 547.7 573 551.4C577.7 555.1 580.9 561.6 583 566.4C585.1 571.2 585.2 575.6 585.5 580C585.8 584.4 586 587.7 585 592.7C584 597.8 581.5 605.8 579.3 610.3C577.1 614.8 574.7 617.3 572 620C569.3 622.7 567 625.1 563 626.6C559 628.1 558.9 628.5 548 629C537.1 629.5 513.6 630.3 497.9 629.7C482.2 629.1 466.1 626.9 454 625.3C441.9 623.7 434.6 621.8 425.2 620.3C415.8 618.8 404.5 618.6 397.6 616.5C390.7 614.4 387.1 611 383.8 607.8C380.5 604.5 379.4 600.8 378 597C376.6 593.2 376 589.2 375.7 585.2C375.4 581.2 375.4 576.5 376.3 572.7C377.2 568.9 378.6 566 381.3 562.6C384 559.2 386.1 556.4 392.6 552.6C399.1 548.9 415.6 542.2 420.2 540.1" fill="none" stroke="#ffc000" stroke-width="3.8" stroke-dasharray="29 12" transform="translate(632.6 1)"/>
<path d="M205 177C212.5 175.2 235.5 169.1 250 166C264.5 162.9 278.7 160.4 292 158.5C305.3 156.6 317.8 155.3 330 154.5C342.2 153.7 351.2 153.1 365 153.5C378.8 153.9 400.5 155.1 413 157C425.5 158.9 432.7 162 440 165C447.3 168 451.3 170.8 457 175C462.7 179.2 469.2 184.5 474 190C478.8 195.5 482.7 201 486 208C489.3 215 492.2 224 494 232C495.8 240 496.7 248 497 256C497.3 264 496.7 272.2 496 280C495.3 287.8 494.5 296.3 493 303C491.5 309.7 489.3 314.5 487 320C484.7 325.5 484 327.8 479 336C474 344.2 466.2 357.3 457 369C447.8 380.7 433.5 396.2 424 406C414.5 415.8 406.2 422.2 400 428C393.8 433.8 390.7 435.7 387 441C383.3 446.3 380.3 453.8 378 460C375.7 466.2 374.5 471.8 373 478C371.5 484.2 370 490 369 497C368 504 367.4 509.5 367 520C366.6 530.5 366.7 547.5 366.6 560C366.5 572.5 366.4 587 366.6 595C366.8 603 367 603.7 368 608C369 612.3 370.4 617.5 372.4 621C374.4 624.5 377.4 626.5 380 629C382.6 631.5 383.3 633.4 388.3 635.7C393.3 638 402.8 640.6 410 643C417.2 645.4 424.8 648 431.5 650C438.2 652 443.8 653.3 450 655C456.2 656.7 462.3 658.8 469 660C475.7 661.2 484.2 661.2 490 662C495.8 662.8 499.3 663.5 503.6 664.5C507.9 665.5 512.6 666.6 516 668C519.4 669.4 521.5 671 523.7 673C525.9 675 527.8 677.2 529 680C530.2 682.8 530.6 684.9 531 690C531.4 695.1 531.5 703.1 531.5 710.6C531.5 718.1 531.3 727.8 531 735C530.7 742.2 530.5 747.2 529.5 753.9C528.5 760.6 526.9 768.8 525 775C523.1 781.2 520.2 786.5 518 791.3C515.8 796.1 514.4 800.1 512 804C509.6 807.9 507.3 811.1 503.6 814.4C499.9 817.7 494.8 821.1 490 824C485.2 826.9 480.5 829.4 474.7 831.7C468.9 834 462.2 836.1 455 838C447.8 839.9 441.5 842 431.5 843.2C421.5 844.4 407 844.7 395 845C383 845.3 370.2 845.2 359.4 845C348.6 844.8 339.6 844 330 843.5C320.4 843 310.1 842.7 301.8 841.8C293.5 840.9 286.7 839.5 280 838C273.3 836.5 268.4 835.2 261.4 833C254.4 830.8 245.7 827.6 238 824.5C230.3 821.4 222.5 818.1 215.3 814.4C208.1 810.6 201.7 806.3 195 802C188.3 797.7 180.2 792.6 175 788.4C169.8 784.2 166.9 780.8 164 777C161.1 773.2 159.2 769.6 157.7 765.4C156.2 761.2 155.3 756.3 154.8 752C154.3 747.7 154.3 744.1 154.8 739.4C155.3 734.7 156.6 728.8 158 724C159.4 719.2 160.6 716.3 163.4 710.6C166.2 704.9 171.2 696.8 175 690C178.8 683.2 182.7 676.7 186.5 670C190.3 663.3 194.2 656.7 198 650C201.8 643.3 206 636.7 209.5 630C213 623.3 216.1 616.8 219 610C221.9 603.2 224.9 596.2 227 589.5C229.1 582.8 230.5 576.2 231.5 570C232.5 563.8 233.1 557.8 233 552C232.9 546.2 232 540.8 231 535C230 529.2 229.5 523.8 227 517.5C224.5 511.2 220.2 503.6 216 497C211.8 490.4 207.5 484.1 202 478C196.5 471.9 188.8 466.8 183 460.5C177.2 454.2 171.9 446.8 167 440C162.1 433.2 158.3 427.3 153.5 420C148.7 412.7 142.9 403.8 138 396C133.1 388.2 127.7 379.7 124 373C120.3 366.3 118.1 361.5 116 356C113.9 350.5 112.5 346.8 111.5 340C110.5 333.2 110.2 323 110 315C109.8 307 109.8 300.8 110 292C110.2 283.2 110.5 271.7 111 262C111.5 252.3 112 240.7 113 234C114 227.3 115.2 225.7 117 222C118.8 218.3 120.2 215.8 124 212C127.8 208.2 133.8 202.7 140 199C146.2 195.3 153.5 192.3 161 190C168.5 187.7 176.5 186.2 185 185C193.5 183.8 203.2 183.4 212 183C220.8 182.6 233.7 182.6 238 182.5" fill="none" stroke="#31a046" stroke-width="3.9" stroke-dasharray="25 11.5" transform="translate(1281 -3)"/>
<path d="M421.4 531.9C425.4 531.8 433.5 531.1 445.2 531.3C456.9 531.5 477.4 532.1 491.6 533.2C505.8 534.4 519.8 536.4 530.4 538.2C541 540 547.9 541.8 555 544C562.1 546.2 568.3 547.7 573 551.4C577.7 555.1 580.9 561.6 583 566.4C585.1 571.2 585.2 575.6 585.5 580C585.8 584.4 586 587.7 585 592.7C584 597.8 581.5 605.8 579.3 610.3C577.1 614.8 574.7 617.3 572 620C569.3 622.7 567 625.1 563 626.6C559 628.1 558.9 628.5 548 629C537.1 629.5 513.6 630.3 497.9 629.7C482.2 629.1 466.1 626.9 454 625.3C441.9 623.7 434.6 621.8 425.2 620.3C415.8 618.8 404.5 618.6 397.6 616.5C390.7 614.4 387.1 611 383.8 607.8C380.5 604.5 379.4 600.8 378 597C376.6 593.2 376 589.2 375.7 585.2C375.4 581.2 375.4 576.5 376.3 572.7C377.2 568.9 378.6 566 381.3 562.6C384 559.2 386.1 556.4 392.6 552.6C399.1 548.9 415.6 542.2 420.2 540.1" fill="none" stroke="#ffc000" stroke-width="3.8" stroke-dasharray="29 12" transform="translate(1281 -3)"/>
<path d="M120 887.6C121.7 885.9 122.9 881.8 130 877.6C137.1 873.4 148.9 866.5 162.7 862.6C176.5 858.8 194 856.2 212.8 854.5C231.6 852.8 252.4 852.6 275.4 852.5C298.4 852.4 325.5 853.9 350.6 853.8C375.7 853.7 400.7 851.7 425.8 852C450.9 852.3 482.2 854 501 855.5C519.8 857 530.3 859.3 538.6 861.3C546.9 863.3 548.3 864.9 551 867.6C553.7 870.3 555.3 873.9 554.9 877.6C554.5 881.3 551.8 884.6 548.6 890C545.5 895.4 540.2 903.9 536 910C531.8 916.1 529.4 922.3 523.6 926.5C517.8 930.7 513.1 931.9 501 935.2C488.9 938.5 467.6 944 450.9 946.5C434.2 949 421.7 949.7 400.8 950.3C379.9 950.9 348.6 950.7 325.6 950.3C302.6 949.9 283.8 949.9 262.9 947.8C242 945.7 217 941.1 200.3 937.7C183.6 934.4 174.4 931 162.7 927.7C151 924.4 136.9 921.5 130 917.7C123.1 914 123 909.5 121.3 905.2C119.5 900.9 119.8 894.2 119.5 892" fill="none" stroke="#9b9b9b" stroke-width="4" stroke-dasharray="31 13"/>
<path d="M752.9 887.3C754.2 886.2 755.7 884.1 760.7 881C765.7 877.9 771.2 872.7 782.7 868.5C794.2 864.3 814 858.4 829.6 856C845.2 853.6 858.1 854.7 876.6 854.4C895.1 854.1 922.5 854.2 940.7 854.4C958.9 854.6 975.1 855.7 985.8 855.6C996.5 855.5 990 854 1005 853.6C1020 853.2 1056.3 853 1076 853.3C1095.7 853.6 1113 854.8 1123 855.2C1133 855.6 1129.3 854.8 1136.2 855.7C1143.1 856.6 1155.4 858 1164.4 860.4C1173.4 862.8 1184.9 865.9 1190 870C1195.1 874.1 1195.8 880 1195 885C1194.2 890 1189.5 896.1 1185 900C1180.5 903.9 1171.6 905.1 1168.2 908.4C1164.8 911.7 1166.4 916.3 1164.4 919.6C1162.4 922.9 1159.8 925.8 1156 928.1C1152.2 930.5 1148.9 931.2 1141.8 933.7C1134.7 936.2 1121.4 941.1 1113.6 943.1C1105.8 945.1 1102 944.9 1094.8 946C1087.6 947.1 1080.7 949 1070.4 949.7C1060.1 950.4 1055.7 950.2 1032.8 950.3C1009.9 950.4 958.7 951 933.2 950.3C907.7 949.6 894.6 947.6 880 946C865.4 944.4 858.9 943.5 845.3 940.5C831.7 937.5 812.4 931.9 798.3 928C784.2 924.1 768.1 921.7 760.7 917C753.3 912.3 755.1 904.5 753.8 899.8C752.5 895.1 753.1 890.8 753 889" fill="none" stroke="#9b9b9b" stroke-width="4" stroke-dasharray="31 13"/>
<path d="M1400.4 890.9C1401 888.4 1399.2 880.3 1403.7 875.8C1408.2 871.3 1413.8 868.2 1427.3 864C1440.8 859.8 1457.7 852.8 1484.5 850.5C1511.3 848.2 1563.4 849.9 1588.4 850.2C1613.4 850.5 1624 852.3 1634.6 852.2C1645.2 852.1 1637.8 850.4 1652 849.8C1666.2 849.2 1700.2 848.5 1719.8 848.8C1739.4 849.1 1756.1 849.7 1769.5 851.6C1782.9 853.5 1792.4 855.3 1800 860C1807.6 864.7 1813.7 872.5 1815 880C1816.3 887.5 1812 896.8 1808 905C1804 913.2 1798.7 923.5 1790.8 929.2C1782.9 934.9 1768.3 936.9 1760.6 939C1752.9 941.1 1752.1 940.4 1744.7 941.6C1737.3 942.8 1728.7 945.2 1716.2 946.1C1703.8 947 1696 947 1670 947C1644 947 1585 947.6 1560 946.4C1535 945.2 1533.7 942.5 1520 940C1506.3 937.5 1493.2 935.3 1477.7 931.3C1462.2 927.3 1439.1 919.8 1427.3 916.1C1415.5 912.5 1411.5 911.9 1407 909.4C1402.5 906.9 1401.5 903.9 1400.4 901C1399.3 898.1 1400.2 893.5 1400.2 892" fill="none" stroke="#9b9b9b" stroke-width="4" stroke-dasharray="31 13"/>
<circle cx="1208" cy="163.5" r="144.7" fill="#34a24a"/>
<circle cx="1203.4" cy="474.8" r="65.5" fill="#ffc000"/>
<circle cx="1208" cy="882.5" r="48.4" fill="#999999"/>
<circle cx="1799.4" cy="169" r="92.4" fill="#34a24a"/>
<circle cx="1822.7" cy="490.7" r="45.9" fill="#ffc000"/>
<circle cx="1819.7" cy="882.5" r="46.1" fill="#999999"/>
<text class="b" x="26.7" y="58.6" font-size="58.3" textLength="62.8" lengthAdjust="spacingAndGlyphs">(a)</text>
<text class="b" x="104.2" y="57.4" font-size="48.5" textLength="104.1" lengthAdjust="spacingAndGlyphs">2014</text>
<text class="s" x="71.2" y="144.6" font-size="48.6" textLength="211.4" lengthAdjust="spacingAndGlyphs">Vegetation</text>
<text class="s" x="298.3" y="144.6" font-size="48.6" textLength="236.5" lengthAdjust="spacingAndGlyphs">carbon pool</text>
<text class="s" x="251.1" y="232" font-size="48.6" textLength="74.6" lengthAdjust="spacingAndGlyphs">229</text>
<text class="s" x="427.3" y="429.8" font-size="48.6" textLength="286.5" lengthAdjust="spacingAndGlyphs">Coarse woody</text>
<text class="s" x="428" y="471.9" font-size="48.6" textLength="285.8" lengthAdjust="spacingAndGlyphs">debris + Litter</text>
<text class="s" x="427.2" y="513.5" font-size="48.6" textLength="348.2" lengthAdjust="spacingAndGlyphs">(CL) carbon pool</text>
<text class="s" x="426.3" y="574.3" font-size="48.6" textLength="50.1" lengthAdjust="spacingAndGlyphs">36</text>
<text class="s" x="162.4" y="895.1" font-size="48.6" textLength="331.5" lengthAdjust="spacingAndGlyphs">Soil carbon pool</text>
<text class="s" x="299" y="938.2" font-size="48.6" textLength="65.7" lengthAdjust="spacingAndGlyphs">111</text>
<text class="b" x="704.5" y="57.2" font-size="58.3" textLength="73.1" lengthAdjust="spacingAndGlyphs">(b)</text>
<text class="b" x="793.1" y="54.6" font-size="48.5" textLength="101" lengthAdjust="spacingAndGlyphs">2030</text>
<text class="s" x="896.1" y="223.8" font-size="48.6" textLength="73.5" lengthAdjust="spacingAndGlyphs">358</text>
<text class="s" x="1154.4" y="182" font-size="48.6" fill="#fff" textLength="104.6" lengthAdjust="spacingAndGlyphs">+129</text>
<text class="s" x="1159.8" y="497.8" font-size="48.6" textLength="79.6" lengthAdjust="spacingAndGlyphs">+27</text>
<text class="s" x="1056.2" y="572.3" font-size="48.6" textLength="47.6" lengthAdjust="spacingAndGlyphs">63</text>
<text class="s" x="933.7" y="917.8" font-size="48.6" textLength="71.3" lengthAdjust="spacingAndGlyphs">127</text>
<text class="s" x="1162" y="896.1" font-size="48.6" fill="#fff" textLength="78.9" lengthAdjust="spacingAndGlyphs">+16</text>
<text class="b" x="1378.7" y="56.6" font-size="58.3" textLength="68.7" lengthAdjust="spacingAndGlyphs">(c)</text>
<text class="b" x="1459.7" y="56.4" font-size="48.5" textLength="101.7" lengthAdjust="spacingAndGlyphs">2050</text>
<text class="s" x="1535.4" y="222.8" font-size="48.6" textLength="76.4" lengthAdjust="spacingAndGlyphs">319</text>
<text class="s" x="1756.8" y="187.5" font-size="48.6" fill="#fff" textLength="78.9" lengthAdjust="spacingAndGlyphs">+90</text>
<text class="s" x="1777.3" y="508.8" font-size="48.6" textLength="78.8" lengthAdjust="spacingAndGlyphs">+14</text>
<text class="s" x="1705" y="567.5" font-size="48.6" textLength="50.2" lengthAdjust="spacingAndGlyphs">49</text>
<text class="s" x="1585" y="913.8" font-size="48.6" textLength="73.6" lengthAdjust="spacingAndGlyphs">126</text>
<text class="s" x="1778.7" y="900.3" font-size="48.6" fill="#fff" textLength="77" lengthAdjust="spacingAndGlyphs">+15</text>
<path d="M100.7 1139V1506.2H631.2" fill="none" stroke="#262626" stroke-width="2"/>
<path d="M109.1 1506.2v-3.5M244.9 1506.2v-3.5M399.1 1506.2v-3.5M582.9 1506.2v-3.5M100.7 1159.8h4M100.7 1275.7h4M100.7 1391.9h4" fill="none" stroke="#262626" stroke-width="1.2"/>
<text class="t" x="89.2" y="1174.4" font-size="38.7" text-anchor="end">350</text>
<text class="t" x="89.2" y="1290.3" font-size="38.7" text-anchor="end">300</text>
<text class="t" x="89.2" y="1406.5" font-size="38.7" text-anchor="end">250</text>
<text class="t" x="89.2" y="1522.4" font-size="38.7" text-anchor="end">200</text>
<text class="t" x="109.1" y="1556.5" font-size="38.7" text-anchor="middle">2001</text>
<text class="t" x="244.9" y="1556.5" font-size="38.7" text-anchor="middle">2015</text>
<text class="t" x="399.1" y="1556.5" font-size="38.7" text-anchor="middle">2031</text>
<text class="t" x="582.9" y="1556.5" font-size="38.7" text-anchor="middle">2050</text>
<path d="M109.1 1445.1L159.8 1441.9L199.8 1440.3L235.7 1437.9" fill="none" stroke="#c9c9c9" stroke-width="8.5"/>
<path d="M109.1 1444.3L159.8 1441.5L199.8 1439.5L235.7 1437.5L251.7 1430.7L295.6 1425.9L339.6 1415.5L399.5 1407.5L479.4 1393.5L539.4 1382.7L582.9 1375.5" fill="none" stroke="#cfcfcf" stroke-width="3.2" opacity=".8"/>
<path d="M109.1 1444.3L159.8 1441.5L199.8 1439.5L235.7 1437.5L251.7 1430.7L295.6 1425.9L339.6 1415.5L399.5 1407.5L479.4 1393.5L539.4 1382.7L582.9 1375.5" fill="none" stroke="#5a5a5a" stroke-width="1.7"/>
<path d="M235.7 1437.5C237 1432.9 243 1412.3 245.7 1403.5C248.4 1394.7 253.3 1378.9 255.7 1371.6C258.1 1364.2 260.5 1355.3 263.7 1348.4C266.9 1341.5 272.2 1332.1 279.7 1319.6C287.1 1307.2 309 1272.3 319.6 1254.9C330.3 1237.5 350.2 1204.6 359.6 1189.4C368.9 1174.1 385.5 1147.1 389.5 1140.6" fill="none" stroke="#f3b596" stroke-width="2.8" opacity=".4"/>
<path d="M235.7 1437.5C237 1432.9 243 1412.3 245.7 1403.5C248.4 1394.7 253.3 1378.9 255.7 1371.6C258.1 1364.2 260.5 1355.3 263.7 1348.4C266.9 1341.5 272.2 1332.1 279.7 1319.6C287.1 1307.2 309 1272.3 319.6 1254.9C330.3 1237.5 350.2 1204.6 359.6 1189.4C368.9 1174.1 385.5 1147.1 389.5 1140.6" fill="none" stroke="#e8622a" stroke-width="1.6" stroke-linejoin="round"/>
<path d="M389.5 1140.6C390.3 1140.5 394 1139.5 395.5 1139.8C397 1140.2 398.6 1140.4 400.7 1143C402.8 1145.7 407.4 1154.9 411.5 1159.8C415.6 1164.7 425.1 1175.3 431.5 1179.8C437.9 1184.3 450.4 1190 459.4 1193.8C468.5 1197.5 488.7 1204.3 499.4 1207.8C510.1 1211.2 528.2 1216.6 539.4 1219.7C550.5 1222.8 577.1 1229.4 582.9 1230.9" fill="none" stroke="#c9a3df" stroke-width="3.6" opacity=".7"/>
<path d="M389.5 1140.6C390.3 1140.5 394 1139.5 395.5 1139.8C397 1140.2 398.6 1140.4 400.7 1143C402.8 1145.7 407.4 1154.9 411.5 1159.8C415.6 1164.7 425.1 1175.3 431.5 1179.8C437.9 1184.3 450.4 1190 459.4 1193.8C468.5 1197.5 488.7 1204.3 499.4 1207.8C510.1 1211.2 528.2 1216.6 539.4 1219.7C550.5 1222.8 577.1 1229.4 582.9 1230.9" fill="none" stroke="#7a2fa8" stroke-width="1.8" stroke-linejoin="round"/>
<path d="M233.7 1239.7V1437.5" fill="none" stroke="#e8622a" stroke-width="1.4" stroke-dasharray="13 5"/>
<path d="M391.1 1148.6V1239.7" fill="none" stroke="#7a2fa8" stroke-width="2" stroke-dasharray="20 7.5"/>
<text class="b" x="30.4" y="1051.6" font-size="58.3" textLength="73.1" lengthAdjust="spacingAndGlyphs">(d)</text>
<text class="s" x="118.8" y="1088.5" font-size="48.6" textLength="487.2" lengthAdjust="spacingAndGlyphs">Total Vegetation Carbon</text>
<text class="s" x="138.2" y="1207" font-size="43" fill="#ea7a35" textLength="203.3" lengthAdjust="spacingAndGlyphs">Experiment</text>
<text class="s" x="386" y="1280.8" font-size="43" fill="#7030a0" textLength="202.5" lengthAdjust="spacingAndGlyphs">Experiment</text>
<text class="s" x="387.9" y="1313.2" font-size="43" fill="#7030a0" textLength="212.5" lengthAdjust="spacingAndGlyphs">Termination</text>
<text class="s" x="107.9" y="1486.4" font-size="43" fill="#959595" textLength="134.2" lengthAdjust="spacingAndGlyphs">Control</text>
<path d="M737.5 1139V1505.4H1268" fill="none" stroke="#262626" stroke-width="2"/>
<path d="M745.1 1505.4v-3.5M880.9 1505.4v-3.5M1035.1 1505.4v-3.5M1219.3 1505.4v-3.5M737.5 1139.4h4M737.5 1230.9h4M737.5 1322.8h4M737.5 1415.5h4" fill="none" stroke="#262626" stroke-width="1.2"/>
<text class="t" x="726" y="1153.6" font-size="38.7" text-anchor="end">70</text>
<text class="t" x="726" y="1246.7" font-size="38.7" text-anchor="end">60</text>
<text class="t" x="726" y="1338.6" font-size="38.7" text-anchor="end">50</text>
<text class="t" x="726" y="1432.1" font-size="38.7" text-anchor="end">40</text>
<text class="t" x="726" y="1524.4" font-size="38.7" text-anchor="end">30</text>
<text class="t" x="745.1" y="1556.5" font-size="38.7" text-anchor="middle">2001</text>
<text class="t" x="880.9" y="1556.5" font-size="38.7" text-anchor="middle">2015</text>
<text class="t" x="1035.1" y="1556.5" font-size="38.7" text-anchor="middle">2031</text>
<text class="t" x="1219.3" y="1556.5" font-size="38.7" text-anchor="middle">2050</text>
<path d="M745.9 1463.4L783.8 1460.6L803.8 1455.5L851.7 1454.3L871.7 1451.5L887.7 1452.7L903.7 1449.5L979.6 1448.3L1023.5 1442.7L1079.5 1441.5L1099.4 1437.5L1159.4 1433.5L1219.3 1429.5" fill="none" stroke="#cfcfcf" stroke-width="3.2" opacity=".8"/>
<path d="M745.9 1463.4L783.8 1460.6L803.8 1455.5L851.7 1454.3L871.7 1451.5L887.7 1452.7L903.7 1449.5L979.6 1448.3L1023.5 1442.7L1079.5 1441.5L1099.4 1437.5L1159.4 1433.5L1219.3 1429.5" fill="none" stroke="#5a5a5a" stroke-width="1.7"/>
<path d="M871.7 1451.5C872.8 1450.1 878.1 1444.1 879.7 1441.5C881.3 1438.8 882.4 1437.1 883.7 1431.5C885 1425.9 887.6 1409.1 889.7 1399.5C891.8 1389.9 896.8 1369.2 899.7 1359.6C902.6 1350 907.9 1335.6 911.7 1327.6C915.4 1319.6 922.3 1307.1 927.7 1299.6C933 1292.2 944.7 1279.1 951.6 1271.7C958.6 1264.2 973.2 1249.8 979.6 1243.7C986 1237.6 993.3 1231.1 999.6 1225.7C1005.8 1220.4 1022.8 1206.7 1026.3 1203.8" fill="none" stroke="#f3b596" stroke-width="2.8" opacity=".4"/>
<path d="M871.7 1451.5C872.8 1450.1 878.1 1444.1 879.7 1441.5C881.3 1438.8 882.4 1437.1 883.7 1431.5C885 1425.9 887.6 1409.1 889.7 1399.5C891.8 1389.9 896.8 1369.2 899.7 1359.6C902.6 1350 907.9 1335.6 911.7 1327.6C915.4 1319.6 922.3 1307.1 927.7 1299.6C933 1292.2 944.7 1279.1 951.6 1271.7C958.6 1264.2 973.2 1249.8 979.6 1243.7C986 1237.6 993.3 1231.1 999.6 1225.7C1005.8 1220.4 1022.8 1206.7 1026.3 1203.8" fill="none" stroke="#e8622a" stroke-width="1.6" stroke-linejoin="round"/>
<path d="M1026.3 1203.8C1027.6 1204.3 1033.2 1205.1 1035.5 1207.8C1037.8 1210.4 1040.9 1217.3 1043.5 1223.7C1046.2 1230.1 1051.8 1247.4 1055.5 1255.7C1059.2 1263.9 1066.7 1278.5 1071.5 1285.7C1076.3 1292.8 1086.1 1305.2 1091.5 1309.6C1096.8 1314 1105 1316.8 1111.4 1318.8C1117.8 1320.8 1133 1323.8 1139.4 1324.8C1145.8 1325.8 1154 1326.1 1159.4 1326.4C1164.7 1326.7 1174 1326.4 1179.4 1326.8C1184.7 1327.2 1194 1328.6 1199.3 1329.2C1204.7 1329.8 1216.6 1331.3 1219.3 1331.6" fill="none" stroke="#c9a3df" stroke-width="3.6" opacity=".7"/>
<path d="M1026.3 1203.8C1027.6 1204.3 1033.2 1205.1 1035.5 1207.8C1037.8 1210.4 1040.9 1217.3 1043.5 1223.7C1046.2 1230.1 1051.8 1247.4 1055.5 1255.7C1059.2 1263.9 1066.7 1278.5 1071.5 1285.7C1076.3 1292.8 1086.1 1305.2 1091.5 1309.6C1096.8 1314 1105 1316.8 1111.4 1318.8C1117.8 1320.8 1133 1323.8 1139.4 1324.8C1145.8 1325.8 1154 1326.1 1159.4 1326.4C1164.7 1326.7 1174 1326.4 1179.4 1326.8C1184.7 1327.2 1194 1328.6 1199.3 1329.2C1204.7 1329.8 1216.6 1331.3 1219.3 1331.6" fill="none" stroke="#7a2fa8" stroke-width="1.8" stroke-linejoin="round"/>
<path d="M868.1 1248.5V1441.5" fill="none" stroke="#e8622a" stroke-width="1.4" stroke-dasharray="13 5"/>
<path d="M1025.5 1204.6V1325.6" fill="none" stroke="#7a2fa8" stroke-width="2" stroke-dasharray="20 7.5"/>
<text class="b" x="697.6" y="1052" font-size="58.3" textLength="66.6" lengthAdjust="spacingAndGlyphs">(e)</text>
<text class="s" x="797.3" y="1087.6" font-size="48.6" textLength="335.6" lengthAdjust="spacingAndGlyphs">Total CL Carbon</text>
<path d="M1388 1119.9V1507.4H1896.2" fill="none" stroke="#262626" stroke-width="2"/>
<path d="M1398 1507.4v-3.5M1527.5 1507.4v-3.5M1675.3 1507.4v-3.5M1851.5 1507.4v-3.5M1388 1137.8h4M1388 1229.7h4M1388 1323.6h4M1388 1415.5h4" fill="none" stroke="#262626" stroke-width="1.2"/>
<text class="t" x="1378.2" y="1152.4" font-size="38.7" text-anchor="end">130</text>
<text class="t" x="1378.2" y="1245.5" font-size="38.7" text-anchor="end">125</text>
<text class="t" x="1378.2" y="1338.2" font-size="38.7" text-anchor="end">120</text>
<text class="t" x="1378.2" y="1430.9" font-size="38.7" text-anchor="end">115</text>
<text class="t" x="1378.2" y="1524" font-size="38.7" text-anchor="end">110</text>
<text class="t" x="1398" y="1556.5" font-size="38.7" text-anchor="middle">2001</text>
<text class="t" x="1527.5" y="1556.5" font-size="38.7" text-anchor="middle">2015</text>
<text class="t" x="1675.3" y="1556.5" font-size="38.7" text-anchor="middle">2031</text>
<text class="t" x="1851.5" y="1556.5" font-size="38.7" text-anchor="middle">2050</text>
<path d="M1398 1504.2L1454.8 1491.4L1518.7 1482.2L1654.5 1451.5L1851.5 1410.7" fill="none" stroke="#cfcfcf" stroke-width="3.2" opacity=".8"/>
<path d="M1398 1504.2L1454.8 1491.4L1518.7 1482.2L1654.5 1451.5L1851.5 1410.7" fill="none" stroke="#5a5a5a" stroke-width="1.7"/>
<path d="M1518.7 1483.4C1520 1484.2 1526.3 1488 1528.7 1489.4C1531.1 1490.9 1534.5 1494.5 1536.7 1494.2C1538.8 1493.9 1542.3 1490.5 1544.7 1487.4C1547 1484.4 1550.6 1480 1554.6 1471.4C1558.6 1462.9 1566.6 1443.2 1574.6 1423.5C1582.6 1403.8 1603.9 1350.2 1614.6 1323.6C1625.2 1297 1647.7 1240.4 1654.5 1223.7C1661.3 1207.1 1664.2 1201.9 1665.7 1198.6" fill="none" stroke="#f3b596" stroke-width="2.8" opacity=".4"/>
<path d="M1518.7 1483.4C1520 1484.2 1526.3 1488 1528.7 1489.4C1531.1 1490.9 1534.5 1494.5 1536.7 1494.2C1538.8 1493.9 1542.3 1490.5 1544.7 1487.4C1547 1484.4 1550.6 1480 1554.6 1471.4C1558.6 1462.9 1566.6 1443.2 1574.6 1423.5C1582.6 1403.8 1603.9 1350.2 1614.6 1323.6C1625.2 1297 1647.7 1240.4 1654.5 1223.7C1661.3 1207.1 1664.2 1201.9 1665.7 1198.6" fill="none" stroke="#e8622a" stroke-width="1.6" stroke-linejoin="round"/>
<path d="M1665.7 1198.6C1666.9 1194.5 1672 1175.6 1674.5 1167.8C1677 1160 1681.8 1145.6 1684.5 1139.8C1687.1 1134.1 1691.8 1127.3 1694.5 1124.7C1697.1 1122 1701.8 1120.1 1704.5 1119.9C1707.1 1119.6 1710.5 1120.7 1714.4 1123.1C1718.4 1125.4 1728 1132.9 1734.4 1137.8C1740.8 1142.7 1754.4 1153.9 1762.4 1159.8C1770.4 1165.7 1786.4 1176.7 1794.4 1181.8C1802.3 1186.8 1814.7 1193.9 1822.3 1197.8C1829.9 1201.6 1847.6 1208.8 1851.5 1210.5" fill="none" stroke="#c9a3df" stroke-width="3.6" opacity=".7"/>
<path d="M1665.7 1198.6C1666.9 1194.5 1672 1175.6 1674.5 1167.8C1677 1160 1681.8 1145.6 1684.5 1139.8C1687.1 1134.1 1691.8 1127.3 1694.5 1124.7C1697.1 1122 1701.8 1120.1 1704.5 1119.9C1707.1 1119.6 1710.5 1120.7 1714.4 1123.1C1718.4 1125.4 1728 1132.9 1734.4 1137.8C1740.8 1142.7 1754.4 1153.9 1762.4 1159.8C1770.4 1165.7 1786.4 1176.7 1794.4 1181.8C1802.3 1186.8 1814.7 1193.9 1822.3 1197.8C1829.9 1201.6 1847.6 1208.8 1851.5 1210.5" fill="none" stroke="#7a2fa8" stroke-width="1.8" stroke-linejoin="round"/>
<path d="M1520.7 1292.4V1482.2" fill="none" stroke="#e8622a" stroke-width="1.4" stroke-dasharray="13 5"/>
<path d="M1668.5 1199.8V1309.6" fill="none" stroke="#7a2fa8" stroke-width="2" stroke-dasharray="20 7.5"/>
<text class="b" x="1294.2" y="1051.6" font-size="58.3" textLength="60.3" lengthAdjust="spacingAndGlyphs">(f)</text>
<text class="s" x="1373" y="1064.2" font-size="48.6" textLength="511.2" lengthAdjust="spacingAndGlyphs">Total Soil Organic Matter</text>
<text class="s" x="1381.6" y="1123.2" font-size="48.6" textLength="146.8" lengthAdjust="spacingAndGlyphs">Carbon</text>
<text class="s" x="1646.3" y="1635.2" font-size="48.6" textLength="238.1" lengthAdjust="spacingAndGlyphs">(Unit: PgC)</text>
</svg>
</body></html>
